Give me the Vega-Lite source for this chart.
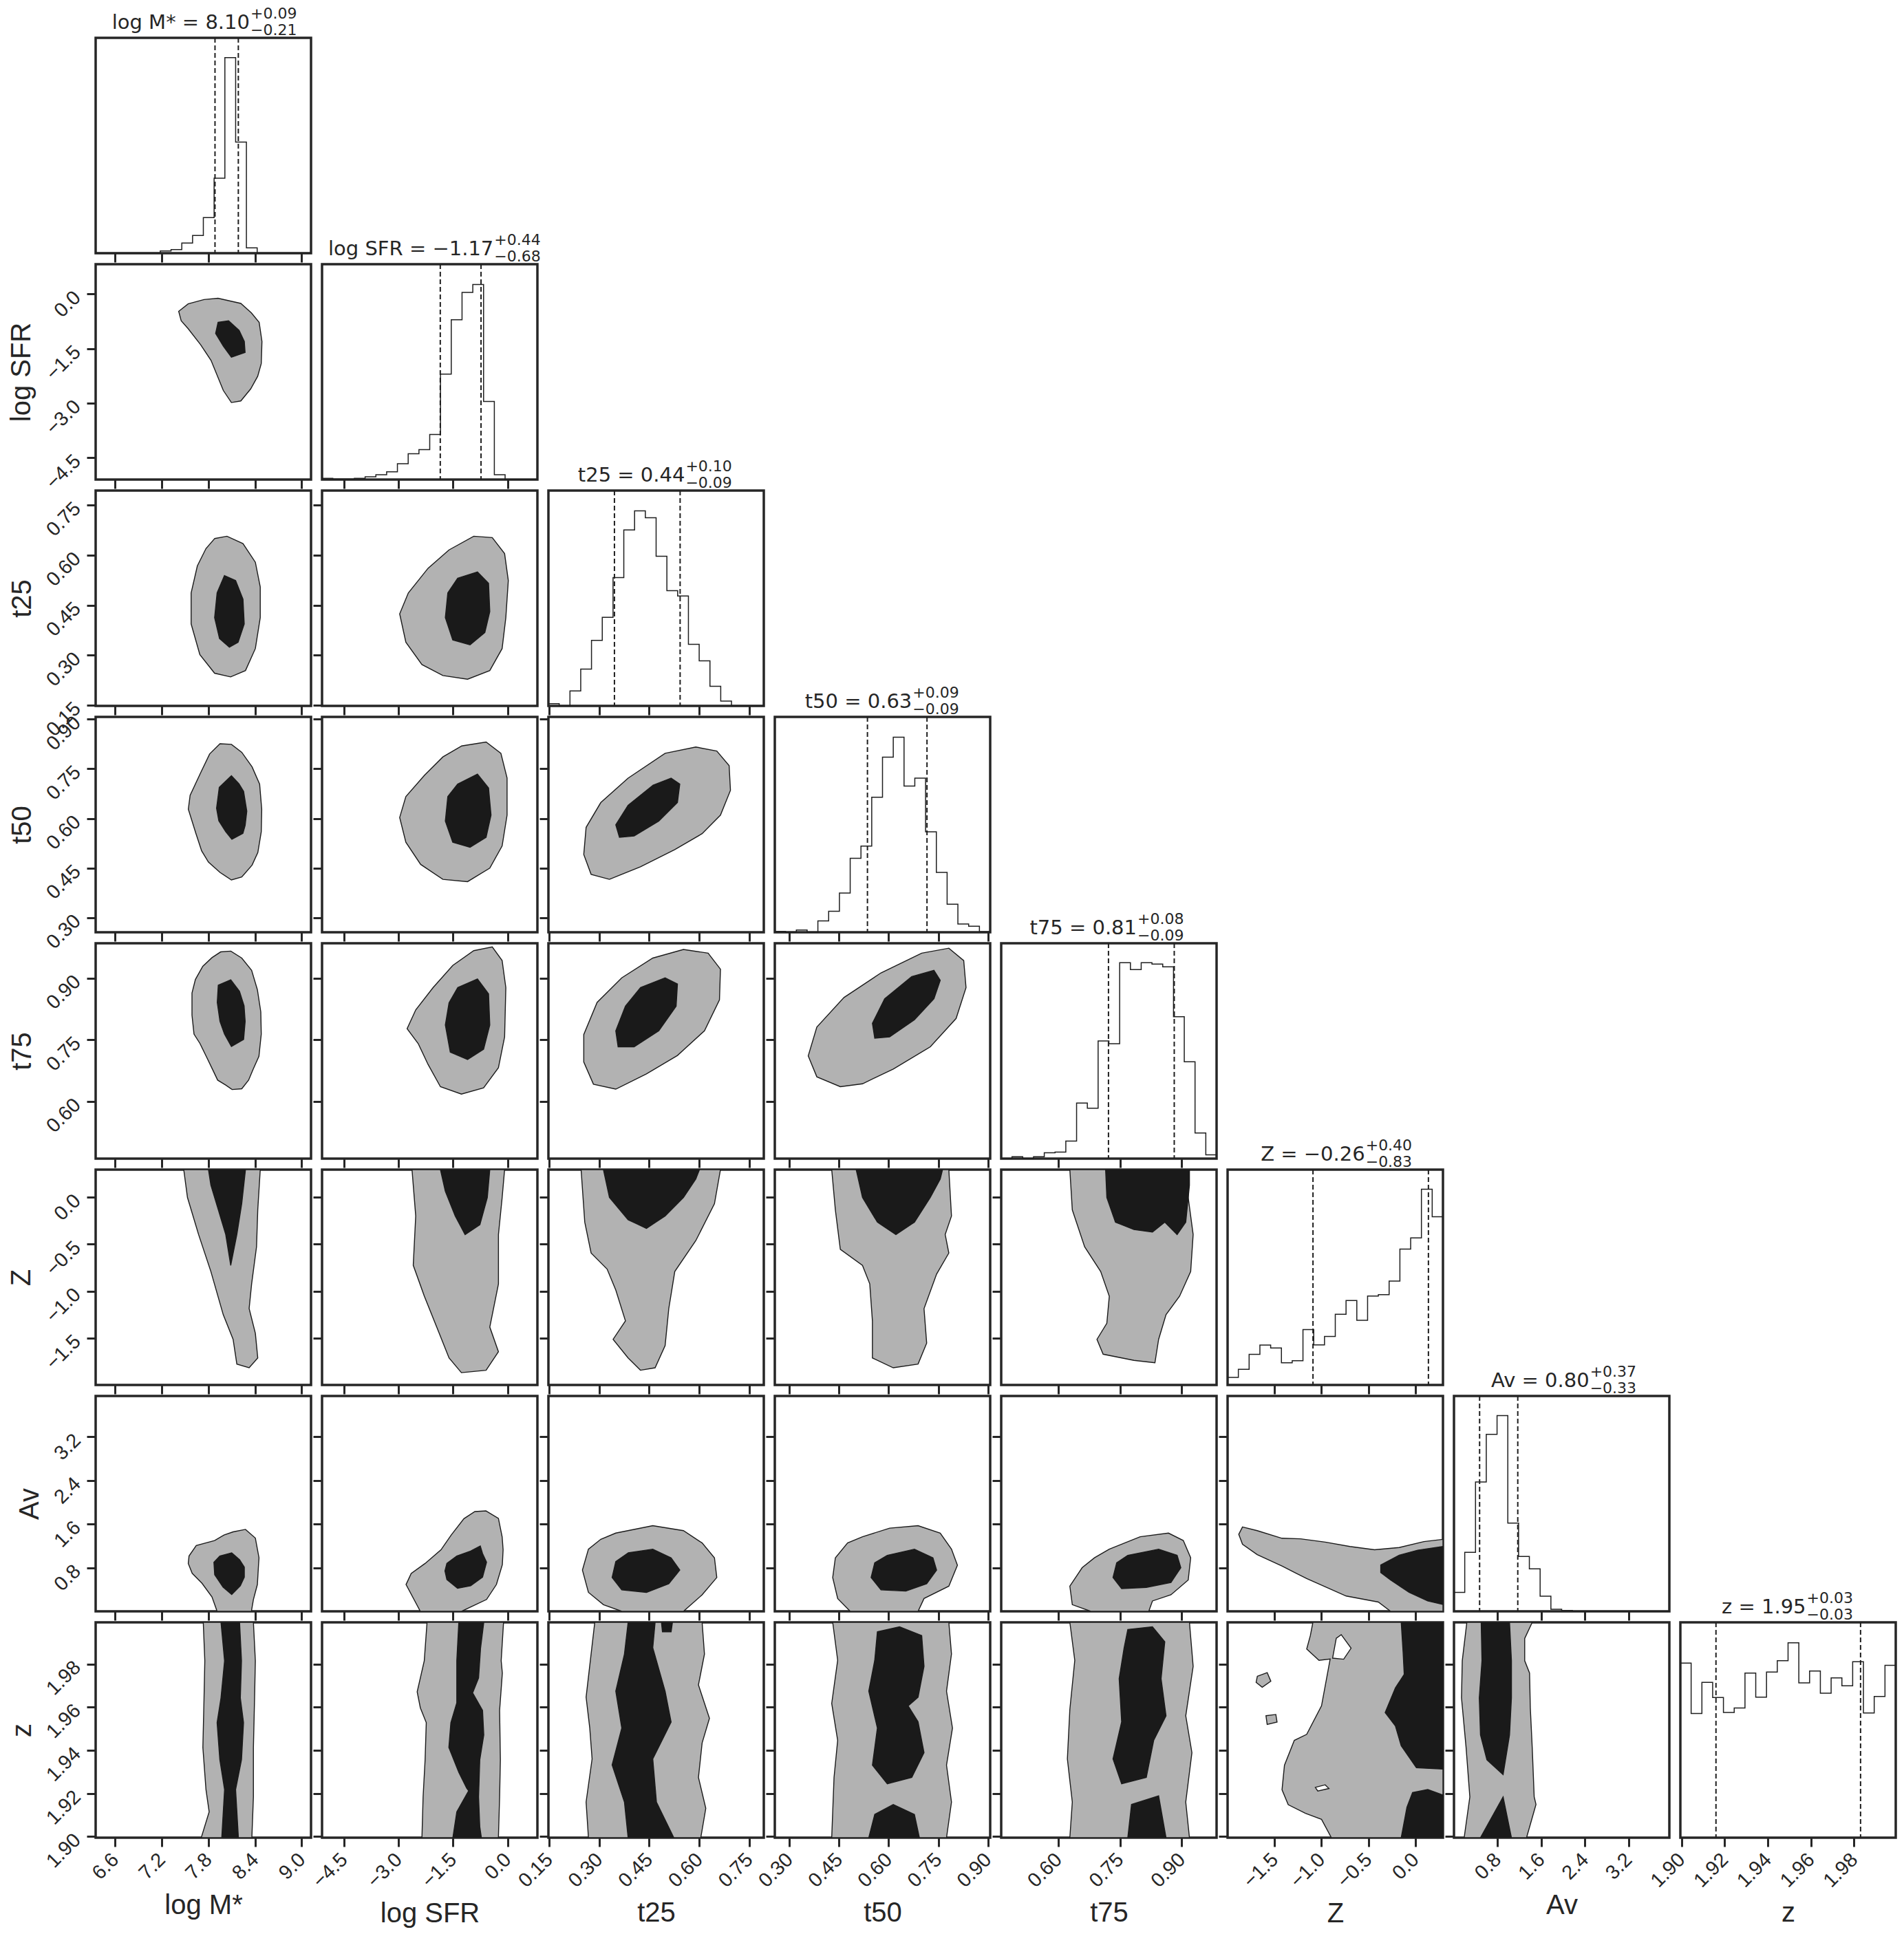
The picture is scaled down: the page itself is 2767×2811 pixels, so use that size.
{
"$schema":"https://vega.github.io/schema/vega-lite/v6.json",
"background":"white",
"padding":{"left":9,"top":7,"right":5,"bottom":5},
"columns":8,"spacing":16,"bounds":"flush",
"concat":[
{"width":313,"height":313,"layer":[
 {"data":{"values":[{"x":6.35,"n":0},{"x":6.4885,"n":0},{"x":6.627,"n":0},{"x":6.7655,"n":0},{"x":6.904,"n":0},{"x":7.0425,"n":0},{"x":7.181,"n":10},{"x":7.3195,"n":16},{"x":7.458,"n":44},{"x":7.5965,"n":77},{"x":7.735,"n":155},{"x":7.8735,"n":326},{"x":8.012,"n":850},{"x":8.1505,"n":483},{"x":8.289,"n":23},{"x":8.4275,"n":0},{"x":8.566,"n":0},{"x":8.7045,"n":0},{"x":8.843,"n":0},{"x":8.9815,"n":0},{"x":9.12,"n":0}]},
  "mark":{"type":"line","interpolate":"step-after","stroke":"#1f1f1f","strokeWidth":1.5},
  "encoding":{"x":{"field":"x","type":"quantitative","scale":{"domain":[6.35,9.12],"nice":false,"zero":false},"axis":{"values":[6.6,7.2,7.8,8.4,9.0],"labels":false,"title":null}},"y":{"field":"n","type":"quantitative","scale":{"domain":[0,936],"nice":false},"axis":null}}},
 {"data":{"values":[{"x":7.885},{"x":8.185}]},"mark":{"type":"rule","strokeDash":[7,4],"strokeWidth":2,"color":"#1f1f1f"},"encoding":{"x":{"field":"x","type":"quantitative","scale":{"domain":[6.35,9.12],"nice":false,"zero":false}}}},
 {"data":{"values":[{"t":"log M* = 8.10","u":"+0.09","d":"−0.21"}]},"encoding":{"x":{"datum":8.332,"type":"quantitative"},"y":{"datum":936,"type":"quantitative","axis":null}},"layer":[
  {"mark":{"type":"text","align":"right","baseline":"alphabetic","dy":-13,"fontSize":29,"font":"DejaVu Sans","color":"#262626"},"encoding":{"text":{"field":"t"}}},
  {"mark":{"type":"text","align":"left","baseline":"alphabetic","dx":1,"dy":-28,"fontSize":22,"font":"DejaVu Sans","color":"#262626"},"encoding":{"text":{"field":"u"}}},
  {"mark":{"type":"text","align":"left","baseline":"alphabetic","dx":1,"dy":-4,"fontSize":22,"font":"DejaVu Sans","color":"#262626"},"encoding":{"text":{"field":"d"}}}]}]},
{"width":313,"height":313,"view":{"stroke":null},"data":{"values":[]},"mark":"point"},
{"width":313,"height":313,"view":{"stroke":null},"data":{"values":[]},"mark":"point"},
{"width":313,"height":313,"view":{"stroke":null},"data":{"values":[]},"mark":"point"},
{"width":313,"height":313,"view":{"stroke":null},"data":{"values":[]},"mark":"point"},
{"width":313,"height":313,"view":{"stroke":null},"data":{"values":[]},"mark":"point"},
{"width":313,"height":313,"view":{"stroke":null},"data":{"values":[]},"mark":"point"},
{"width":313,"height":313,"view":{"stroke":null},"data":{"values":[]},"mark":"point"},

{"width":313,"height":313,
 "data":{"values":[{"s":"g1","i":0,"x":7.418,"y":-0.475},{"s":"g1","i":1,"x":7.54,"y":-0.27},{"s":"g1","i":2,"x":7.744,"y":-0.152},{"s":"g1","i":3,"x":7.924,"y":-0.116},{"s":"g1","i":4,"x":8.217,"y":-0.257},{"s":"g1","i":5,"x":8.353,"y":-0.517},{"s":"g1","i":6,"x":8.453,"y":-0.779},{"s":"g1","i":7,"x":8.489,"y":-1.302},{"s":"g1","i":8,"x":8.48,"y":-1.911},{"s":"g1","i":9,"x":8.434,"y":-2.261},{"s":"g1","i":10,"x":8.344,"y":-2.608},{"s":"g1","i":11,"x":8.217,"y":-2.94},{"s":"g1","i":12,"x":8.096,"y":-2.983},{"s":"g1","i":13,"x":7.992,"y":-2.651},{"s":"g1","i":14,"x":7.834,"y":-1.824},{"s":"g1","i":15,"x":7.699,"y":-1.39},{"s":"g1","i":16,"x":7.54,"y":-0.953},{"s":"g1","i":17,"x":7.45,"y":-0.735},
 {"s":"k1","i":0,"x":7.924,"y":-0.779},{"s":"k1","i":1,"x":8.06,"y":-0.735},{"s":"k1","i":2,"x":8.195,"y":-0.997},{"s":"k1","i":3,"x":8.262,"y":-1.302},{"s":"k1","i":4,"x":8.272,"y":-1.606},{"s":"k1","i":5,"x":8.096,"y":-1.737},{"s":"k1","i":6,"x":7.992,"y":-1.433},{"s":"k1","i":7,"x":7.893,"y":-1.084}]},
 "encoding":{"x":{"field":"x","type":"quantitative","scale":{"domain":[6.35,9.12],"nice":false,"zero":false},"axis":{"values":[6.6,7.2,7.8,8.4,9.0],"labels":false,"title":null}},
  "y":{"field":"y","type":"quantitative","scale":{"domain":[-5.1,0.82],"nice":false,"zero":false},"axis":{"values":[-4.5,-3,-1.5,0],"format":".1f","title":"log SFR"}},
  "order":{"field":"i","type":"quantitative"},"detail":{"field":"s","type":"nominal"}},
 "layer":[{"transform":[{"filter":"substring(datum.s,0,1)=='g'"}],"mark":{"type":"line","interpolate":"linear-closed","fill":"#b2b2b2","stroke":"#1a1a1a","strokeWidth":1.4,"clip":true}},
  {"transform":[{"filter":"substring(datum.s,0,1)=='k'"}],"mark":{"type":"line","interpolate":"linear-closed","fill":"#1a1a1a","stroke":"#1a1a1a","strokeWidth":1.4,"clip":true}}]},
{"width":313,"height":313,"layer":[
 {"data":{"values":[{"x":-5.1,"n":5},{"x":-4.804,"n":2},{"x":-4.508,"n":2},{"x":-4.212,"n":5},{"x":-3.916,"n":12},{"x":-3.62,"n":21},{"x":-3.324,"n":34},{"x":-3.028,"n":69},{"x":-2.732,"n":112},{"x":-2.436,"n":130},{"x":-2.14,"n":196},{"x":-1.844,"n":459},{"x":-1.548,"n":695},{"x":-1.252,"n":814},{"x":-0.956,"n":849},{"x":-0.66,"n":340},{"x":-0.364,"n":21},{"x":-0.068,"n":0},{"x":0.228,"n":0},{"x":0.524,"n":0},{"x":0.82,"n":0}]},
  "mark":{"type":"line","interpolate":"step-after","stroke":"#1f1f1f","strokeWidth":1.5},
  "encoding":{"x":{"field":"x","type":"quantitative","scale":{"domain":[-5.1,0.82],"nice":false,"zero":false},"axis":{"values":[-4.5,-3,-1.5,0],"labels":false,"title":null}},"y":{"field":"n","type":"quantitative","scale":{"domain":[0,937],"nice":false},"axis":null}}},
 {"data":{"values":[{"x":-1.85},{"x":-0.73}]},"mark":{"type":"rule","strokeDash":[7,4],"strokeWidth":2,"color":"#1f1f1f"},"encoding":{"x":{"field":"x","type":"quantitative","scale":{"domain":[-5.1,0.82],"nice":false,"zero":false}}}},
 {"data":{"values":[{"t":"log SFR = −1.17","u":"+0.44","d":"−0.68"}]},"encoding":{"x":{"datum":-0.385,"type":"quantitative"},"y":{"datum":937,"type":"quantitative","axis":null}},"layer":[
  {"mark":{"type":"text","align":"right","baseline":"alphabetic","dy":-13,"fontSize":29,"font":"DejaVu Sans","color":"#262626"},"encoding":{"text":{"field":"t"}}},
  {"mark":{"type":"text","align":"left","baseline":"alphabetic","dx":1,"dy":-28,"fontSize":22,"font":"DejaVu Sans","color":"#262626"},"encoding":{"text":{"field":"u"}}},
  {"mark":{"type":"text","align":"left","baseline":"alphabetic","dx":1,"dy":-4,"fontSize":22,"font":"DejaVu Sans","color":"#262626"},"encoding":{"text":{"field":"d"}}}]}]},
{"width":313,"height":313,"view":{"stroke":null},"data":{"values":[]},"mark":"point"},
{"width":313,"height":313,"view":{"stroke":null},"data":{"values":[]},"mark":"point"},
{"width":313,"height":313,"view":{"stroke":null},"data":{"values":[]},"mark":"point"},
{"width":313,"height":313,"view":{"stroke":null},"data":{"values":[]},"mark":"point"},
{"width":313,"height":313,"view":{"stroke":null},"data":{"values":[]},"mark":"point"},
{"width":313,"height":313,"view":{"stroke":null},"data":{"values":[]},"mark":"point"},

{"width":313,"height":313,
 "data":{"values":[{"s":"g1","i":0,"x":7.88,"y":0.65},{"s":"g1","i":1,"x":8.039,"y":0.657},{"s":"g1","i":2,"x":8.245,"y":0.635},{"s":"g1","i":3,"x":8.404,"y":0.579},{"s":"g1","i":4,"x":8.467,"y":0.505},{"s":"g1","i":5,"x":8.467,"y":0.413},{"s":"g1","i":6,"x":8.404,"y":0.32},{"s":"g1","i":7,"x":8.277,"y":0.254},{"s":"g1","i":8,"x":8.086,"y":0.235},{"s":"g1","i":9,"x":7.88,"y":0.246},{"s":"g1","i":10,"x":7.69,"y":0.302},{"s":"g1","i":11,"x":7.578,"y":0.394},{"s":"g1","i":12,"x":7.578,"y":0.487},{"s":"g1","i":13,"x":7.658,"y":0.568},{"s":"g1","i":14,"x":7.769,"y":0.62},
 {"s":"k1","i":0,"x":8.007,"y":0.539},{"s":"k1","i":1,"x":8.15,"y":0.524},{"s":"k1","i":2,"x":8.245,"y":0.468},{"s":"k1","i":3,"x":8.261,"y":0.394},{"s":"k1","i":4,"x":8.182,"y":0.339},{"s":"k1","i":5,"x":8.07,"y":0.324},{"s":"k1","i":6,"x":7.943,"y":0.35},{"s":"k1","i":7,"x":7.88,"y":0.413},{"s":"k1","i":8,"x":7.912,"y":0.487}]},
 "encoding":{"x":{"field":"x","type":"quantitative","scale":{"domain":[6.35,9.12],"nice":false,"zero":false},"axis":{"values":[6.6,7.2,7.8,8.4,9.0],"labels":false,"title":null}},
  "y":{"field":"y","type":"quantitative","scale":{"domain":[0.148,0.794],"nice":false,"zero":false},"axis":{"values":[0.15,0.3,0.45,0.6,0.75],"format":".2f","title":"t25"}},
  "order":{"field":"i","type":"quantitative"},"detail":{"field":"s","type":"nominal"}},
 "layer":[{"transform":[{"filter":"substring(datum.s,0,1)=='g'"}],"mark":{"type":"line","interpolate":"linear-closed","fill":"#b2b2b2","stroke":"#1a1a1a","strokeWidth":1.4,"clip":true}},
  {"transform":[{"filter":"substring(datum.s,0,1)=='k'"}],"mark":{"type":"line","interpolate":"linear-closed","fill":"#1a1a1a","stroke":"#1a1a1a","strokeWidth":1.4,"clip":true}}]},
{"width":313,"height":313,
 "data":{"values":[{"s":"g1","i":0,"x":-1.609,"y":0.616},{"s":"g1","i":1,"x":-0.93,"y":0.657},{"s":"g1","i":2,"x":-0.421,"y":0.653},{"s":"g1","i":3,"x":-0.082,"y":0.605},{"s":"g1","i":4,"x":0.02,"y":0.524},{"s":"g1","i":5,"x":-0.048,"y":0.413},{"s":"g1","i":6,"x":-0.15,"y":0.32},{"s":"g1","i":7,"x":-0.489,"y":0.254},{"s":"g1","i":8,"x":-1.1,"y":0.228},{"s":"g1","i":9,"x":-1.778,"y":0.239},{"s":"g1","i":10,"x":-2.355,"y":0.272},{"s":"g1","i":11,"x":-2.796,"y":0.339},{"s":"g1","i":12,"x":-2.966,"y":0.424},{"s":"g1","i":13,"x":-2.728,"y":0.487},{"s":"g1","i":14,"x":-2.185,"y":0.561},
 {"s":"k1","i":0,"x":-1.371,"y":0.531},{"s":"k1","i":1,"x":-0.828,"y":0.55},{"s":"k1","i":2,"x":-0.523,"y":0.516},{"s":"k1","i":3,"x":-0.489,"y":0.431},{"s":"k1","i":4,"x":-0.625,"y":0.368},{"s":"k1","i":5,"x":-1.032,"y":0.331},{"s":"k1","i":6,"x":-1.507,"y":0.346},{"s":"k1","i":7,"x":-1.711,"y":0.413},{"s":"k1","i":8,"x":-1.643,"y":0.487}]},
 "encoding":{"x":{"field":"x","type":"quantitative","scale":{"domain":[-5.1,0.82],"nice":false,"zero":false},"axis":{"values":[-4.5,-3,-1.5,0],"labels":false,"title":null}},
  "y":{"field":"y","type":"quantitative","scale":{"domain":[0.148,0.794],"nice":false,"zero":false},"axis":{"values":[0.15,0.3,0.45,0.6,0.75],"labels":false,"title":null}},
  "order":{"field":"i","type":"quantitative"},"detail":{"field":"s","type":"nominal"}},
 "layer":[{"transform":[{"filter":"substring(datum.s,0,1)=='g'"}],"mark":{"type":"line","interpolate":"linear-closed","fill":"#b2b2b2","stroke":"#1a1a1a","strokeWidth":1.4,"clip":true}},
  {"transform":[{"filter":"substring(datum.s,0,1)=='k'"}],"mark":{"type":"line","interpolate":"linear-closed","fill":"#1a1a1a","stroke":"#1a1a1a","strokeWidth":1.4,"clip":true}}]},
{"width":313,"height":313,"layer":[
 {"data":{"values":[{"x":0.148,"n":3.3},{"x":0.1803,"n":0},{"x":0.2126,"n":21.7},{"x":0.2449,"n":53.3},{"x":0.2772,"n":95},{"x":0.3095,"n":128.3},{"x":0.3418,"n":186},{"x":0.3741,"n":255},{"x":0.4064,"n":282.7},{"x":0.4387,"n":272.7},{"x":0.471,"n":216.7},{"x":0.5033,"n":167},{"x":0.5356,"n":159.3},{"x":0.5679,"n":89.3},{"x":0.6002,"n":65.3},{"x":0.6325,"n":28.3},{"x":0.6648,"n":7},{"x":0.6971,"n":0},{"x":0.7294,"n":0},{"x":0.7617,"n":0},{"x":0.794,"n":0}]},
  "mark":{"type":"line","interpolate":"step-after","stroke":"#1f1f1f","strokeWidth":1.5},
  "encoding":{"x":{"field":"x","type":"quantitative","scale":{"domain":[0.148,0.794],"nice":false,"zero":false},"axis":{"values":[0.15,0.3,0.45,0.6,0.75],"labels":false,"title":null}},"y":{"field":"n","type":"quantitative","scale":{"domain":[0,312],"nice":false},"axis":null}}},
 {"data":{"values":[{"x":0.346},{"x":0.543}]},"mark":{"type":"rule","strokeDash":[7,4],"strokeWidth":2,"color":"#1f1f1f"},"encoding":{"x":{"field":"x","type":"quantitative","scale":{"domain":[0.148,0.794],"nice":false,"zero":false}}}},
 {"data":{"values":[{"t":"t25 = 0.44","u":"+0.10","d":"−0.09"}]},"encoding":{"x":{"datum":0.5575,"type":"quantitative"},"y":{"datum":312,"type":"quantitative","axis":null}},"layer":[
  {"mark":{"type":"text","align":"right","baseline":"alphabetic","dy":-13,"fontSize":29,"font":"DejaVu Sans","color":"#262626"},"encoding":{"text":{"field":"t"}}},
  {"mark":{"type":"text","align":"left","baseline":"alphabetic","dx":1,"dy":-28,"fontSize":22,"font":"DejaVu Sans","color":"#262626"},"encoding":{"text":{"field":"u"}}},
  {"mark":{"type":"text","align":"left","baseline":"alphabetic","dx":1,"dy":-4,"fontSize":22,"font":"DejaVu Sans","color":"#262626"},"encoding":{"text":{"field":"d"}}}]}]},
{"width":313,"height":313,"view":{"stroke":null},"data":{"values":[]},"mark":"point"},
{"width":313,"height":313,"view":{"stroke":null},"data":{"values":[]},"mark":"point"},
{"width":313,"height":313,"view":{"stroke":null},"data":{"values":[]},"mark":"point"},
{"width":313,"height":313,"view":{"stroke":null},"data":{"values":[]},"mark":"point"},
{"width":313,"height":313,"view":{"stroke":null},"data":{"values":[]},"mark":"point"},

{"width":313,"height":313,
 "data":{"values":[{"s":"g1","i":0,"x":7.949,"y":0.826},{"s":"g1","i":1,"x":8.096,"y":0.824},{"s":"g1","i":2,"x":8.229,"y":0.8},{"s":"g1","i":3,"x":8.362,"y":0.756},{"s":"g1","i":4,"x":8.459,"y":0.704},{"s":"g1","i":5,"x":8.486,"y":0.627},{"s":"g1","i":6,"x":8.48,"y":0.56},{"s":"g1","i":7,"x":8.436,"y":0.497},{"s":"g1","i":8,"x":8.362,"y":0.459},{"s":"g1","i":9,"x":8.229,"y":0.423},{"s":"g1","i":10,"x":8.096,"y":0.414},{"s":"g1","i":11,"x":7.949,"y":0.437},{"s":"g1","i":12,"x":7.801,"y":0.468},{"s":"g1","i":13,"x":7.713,"y":0.502},{"s":"g1","i":14,"x":7.639,"y":0.555},{"s":"g1","i":15,"x":7.542,"y":0.628},{"s":"g1","i":16,"x":7.565,"y":0.67},{"s":"g1","i":17,"x":7.698,"y":0.737},{"s":"g1","i":18,"x":7.816,"y":0.795},
 {"s":"k1","i":0,"x":8.096,"y":0.729},{"s":"k1","i":1,"x":8.193,"y":0.705},{"s":"k1","i":2,"x":8.253,"y":0.682},{"s":"k1","i":3,"x":8.294,"y":0.622},{"s":"k1","i":4,"x":8.273,"y":0.579},{"s":"k1","i":5,"x":8.244,"y":0.555},{"s":"k1","i":6,"x":8.102,"y":0.537},{"s":"k1","i":7,"x":8.023,"y":0.56},{"s":"k1","i":8,"x":7.934,"y":0.593},{"s":"k1","i":9,"x":7.905,"y":0.631},{"s":"k1","i":10,"x":7.94,"y":0.694}]},
 "encoding":{"x":{"field":"x","type":"quantitative","scale":{"domain":[6.35,9.12],"nice":false,"zero":false},"axis":{"values":[6.6,7.2,7.8,8.4,9.0],"labels":false,"title":null}},
  "y":{"field":"y","type":"quantitative","scale":{"domain":[0.256,0.907],"nice":false,"zero":false},"axis":{"values":[0.3,0.45,0.6,0.75,0.9],"format":".2f","title":"t50"}},
  "order":{"field":"i","type":"quantitative"},"detail":{"field":"s","type":"nominal"}},
 "layer":[{"transform":[{"filter":"substring(datum.s,0,1)=='g'"}],"mark":{"type":"line","interpolate":"linear-closed","fill":"#b2b2b2","stroke":"#1a1a1a","strokeWidth":1.4,"clip":true}},
  {"transform":[{"filter":"substring(datum.s,0,1)=='k'"}],"mark":{"type":"line","interpolate":"linear-closed","fill":"#1a1a1a","stroke":"#1a1a1a","strokeWidth":1.4,"clip":true}}]},
{"width":313,"height":313,
 "data":{"values":[{"s":"g1","i":0,"x":-1.269,"y":0.819},{"s":"g1","i":1,"x":-0.59,"y":0.831},{"s":"g1","i":2,"x":-0.184,"y":0.797},{"s":"g1","i":3,"x":-0.014,"y":0.722},{"s":"g1","i":4,"x":-0.014,"y":0.61},{"s":"g1","i":5,"x":-0.15,"y":0.517},{"s":"g1","i":6,"x":-0.489,"y":0.45},{"s":"g1","i":7,"x":-1.1,"y":0.409},{"s":"g1","i":8,"x":-1.778,"y":0.416},{"s":"g1","i":9,"x":-2.389,"y":0.461},{"s":"g1","i":10,"x":-2.796,"y":0.528},{"s":"g1","i":11,"x":-2.966,"y":0.603},{"s":"g1","i":12,"x":-2.796,"y":0.666},{"s":"g1","i":13,"x":-2.287,"y":0.73},{"s":"g1","i":14,"x":-1.778,"y":0.786},
 {"s":"k1","i":0,"x":-1.371,"y":0.704},{"s":"k1","i":1,"x":-0.828,"y":0.734},{"s":"k1","i":2,"x":-0.523,"y":0.692},{"s":"k1","i":3,"x":-0.455,"y":0.61},{"s":"k1","i":4,"x":-0.591,"y":0.543},{"s":"k1","i":5,"x":-1.032,"y":0.513},{"s":"k1","i":6,"x":-1.507,"y":0.528},{"s":"k1","i":7,"x":-1.711,"y":0.592},{"s":"k1","i":8,"x":-1.643,"y":0.666}]},
 "encoding":{"x":{"field":"x","type":"quantitative","scale":{"domain":[-5.1,0.82],"nice":false,"zero":false},"axis":{"values":[-4.5,-3,-1.5,0],"labels":false,"title":null}},
  "y":{"field":"y","type":"quantitative","scale":{"domain":[0.256,0.907],"nice":false,"zero":false},"axis":{"values":[0.3,0.45,0.6,0.75,0.9],"labels":false,"title":null}},
  "order":{"field":"i","type":"quantitative"},"detail":{"field":"s","type":"nominal"}},
 "layer":[{"transform":[{"filter":"substring(datum.s,0,1)=='g'"}],"mark":{"type":"line","interpolate":"linear-closed","fill":"#b2b2b2","stroke":"#1a1a1a","strokeWidth":1.4,"clip":true}},
  {"transform":[{"filter":"substring(datum.s,0,1)=='k'"}],"mark":{"type":"line","interpolate":"linear-closed","fill":"#1a1a1a","stroke":"#1a1a1a","strokeWidth":1.4,"clip":true}}]},
{"width":313,"height":313,
 "data":{"values":[{"s":"g1","i":0,"x":0.498,"y":0.797},{"s":"g1","i":1,"x":0.59,"y":0.816},{"s":"g1","i":2,"x":0.653,"y":0.804},{"s":"g1","i":3,"x":0.69,"y":0.76},{"s":"g1","i":4,"x":0.694,"y":0.685},{"s":"g1","i":5,"x":0.664,"y":0.61},{"s":"g1","i":6,"x":0.609,"y":0.554},{"s":"g1","i":7,"x":0.527,"y":0.506},{"s":"g1","i":8,"x":0.424,"y":0.454},{"s":"g1","i":9,"x":0.331,"y":0.416},{"s":"g1","i":10,"x":0.276,"y":0.431},{"s":"g1","i":11,"x":0.254,"y":0.491},{"s":"g1","i":12,"x":0.261,"y":0.573},{"s":"g1","i":13,"x":0.305,"y":0.648},{"s":"g1","i":14,"x":0.387,"y":0.722},
 {"s":"k1","i":0,"x":0.461,"y":0.7},{"s":"k1","i":1,"x":0.516,"y":0.722},{"s":"k1","i":2,"x":0.542,"y":0.704},{"s":"k1","i":3,"x":0.535,"y":0.648},{"s":"k1","i":4,"x":0.479,"y":0.592},{"s":"k1","i":5,"x":0.405,"y":0.547},{"s":"k1","i":6,"x":0.361,"y":0.543},{"s":"k1","i":7,"x":0.35,"y":0.581},{"s":"k1","i":8,"x":0.387,"y":0.64}]},
 "encoding":{"x":{"field":"x","type":"quantitative","scale":{"domain":[0.148,0.794],"nice":false,"zero":false},"axis":{"values":[0.15,0.3,0.45,0.6,0.75],"labels":false,"title":null}},
  "y":{"field":"y","type":"quantitative","scale":{"domain":[0.256,0.907],"nice":false,"zero":false},"axis":{"values":[0.3,0.45,0.6,0.75,0.9],"labels":false,"title":null}},
  "order":{"field":"i","type":"quantitative"},"detail":{"field":"s","type":"nominal"}},
 "layer":[{"transform":[{"filter":"substring(datum.s,0,1)=='g'"}],"mark":{"type":"line","interpolate":"linear-closed","fill":"#b2b2b2","stroke":"#1a1a1a","strokeWidth":1.4,"clip":true}},
  {"transform":[{"filter":"substring(datum.s,0,1)=='k'"}],"mark":{"type":"line","interpolate":"linear-closed","fill":"#1a1a1a","stroke":"#1a1a1a","strokeWidth":1.4,"clip":true}}]},
{"width":313,"height":313,"layer":[
 {"data":{"values":[{"x":0.256,"n":4},{"x":0.28855,"n":0},{"x":0.3211,"n":10},{"x":0.35365,"n":0},{"x":0.3862,"n":49},{"x":0.41875,"n":91},{"x":0.4513,"n":170},{"x":0.48385,"n":320},{"x":0.5164,"n":373},{"x":0.54895,"n":584},{"x":0.5815,"n":758},{"x":0.61405,"n":844},{"x":0.6466,"n":633},{"x":0.67915,"n":667},{"x":0.7117,"n":435},{"x":0.74425,"n":259},{"x":0.7768,"n":121},{"x":0.80935,"n":36},{"x":0.8419,"n":26},{"x":0.87445,"n":2},{"x":0.907,"n":2}]},
  "mark":{"type":"line","interpolate":"step-after","stroke":"#1f1f1f","strokeWidth":1.5},
  "encoding":{"x":{"field":"x","type":"quantitative","scale":{"domain":[0.256,0.907],"nice":false,"zero":false},"axis":{"values":[0.3,0.45,0.6,0.75,0.9],"labels":false,"title":null}},"y":{"field":"n","type":"quantitative","scale":{"domain":[0,932],"nice":false},"axis":null}}},
 {"data":{"values":[{"x":0.536},{"x":0.716}]},"mark":{"type":"rule","strokeDash":[7,4],"strokeWidth":2,"color":"#1f1f1f"},"encoding":{"x":{"field":"x","type":"quantitative","scale":{"domain":[0.256,0.907],"nice":false,"zero":false}}}},
 {"data":{"values":[{"t":"t50 = 0.63","u":"+0.09","d":"−0.09"}]},"encoding":{"x":{"datum":0.6705,"type":"quantitative"},"y":{"datum":932,"type":"quantitative","axis":null}},"layer":[
  {"mark":{"type":"text","align":"right","baseline":"alphabetic","dy":-13,"fontSize":29,"font":"DejaVu Sans","color":"#262626"},"encoding":{"text":{"field":"t"}}},
  {"mark":{"type":"text","align":"left","baseline":"alphabetic","dx":1,"dy":-28,"fontSize":22,"font":"DejaVu Sans","color":"#262626"},"encoding":{"text":{"field":"u"}}},
  {"mark":{"type":"text","align":"left","baseline":"alphabetic","dx":1,"dy":-4,"fontSize":22,"font":"DejaVu Sans","color":"#262626"},"encoding":{"text":{"field":"d"}}}]}]},
{"width":313,"height":313,"view":{"stroke":null},"data":{"values":[]},"mark":"point"},
{"width":313,"height":313,"view":{"stroke":null},"data":{"values":[]},"mark":"point"},
{"width":313,"height":313,"view":{"stroke":null},"data":{"values":[]},"mark":"point"},
{"width":313,"height":313,"view":{"stroke":null},"data":{"values":[]},"mark":"point"},

{"width":313,"height":313,
 "data":{"values":[{"s":"g1","i":0,"x":7.958,"y":0.964},{"s":"g1","i":1,"x":8.088,"y":0.966},{"s":"g1","i":2,"x":8.229,"y":0.949},{"s":"g1","i":3,"x":8.356,"y":0.919},{"s":"g1","i":4,"x":8.43,"y":0.872},{"s":"g1","i":5,"x":8.474,"y":0.818},{"s":"g1","i":6,"x":8.48,"y":0.764},{"s":"g1","i":7,"x":8.45,"y":0.71},{"s":"g1","i":8,"x":8.377,"y":0.679},{"s":"g1","i":9,"x":8.317,"y":0.652},{"s":"g1","i":10,"x":8.229,"y":0.631},{"s":"g1","i":11,"x":8.105,"y":0.629},{"s":"g1","i":12,"x":8.023,"y":0.64},{"s":"g1","i":13,"x":7.919,"y":0.652},{"s":"g1","i":14,"x":7.861,"y":0.675},{"s":"g1","i":15,"x":7.772,"y":0.71},{"s":"g1","i":16,"x":7.692,"y":0.741},{"s":"g1","i":17,"x":7.615,"y":0.764},{"s":"g1","i":18,"x":7.589,"y":0.81},{"s":"g1","i":19,"x":7.589,"y":0.864},{"s":"g1","i":20,"x":7.633,"y":0.897},{"s":"g1","i":21,"x":7.728,"y":0.929},{"s":"g1","i":22,"x":7.846,"y":0.95},
 {"s":"k1","i":0,"x":7.927,"y":0.883},{"s":"k1","i":1,"x":8.088,"y":0.896},{"s":"k1","i":2,"x":8.2,"y":0.868},{"s":"k1","i":3,"x":8.259,"y":0.833},{"s":"k1","i":4,"x":8.273,"y":0.795},{"s":"k1","i":5,"x":8.253,"y":0.751},{"s":"k1","i":6,"x":8.096,"y":0.734},{"s":"k1","i":7,"x":8.007,"y":0.764},{"s":"k1","i":8,"x":7.949,"y":0.795},{"s":"k1","i":9,"x":7.914,"y":0.841}]},
 "encoding":{"x":{"field":"x","type":"quantitative","scale":{"domain":[6.35,9.12],"nice":false,"zero":false},"axis":{"values":[6.6,7.2,7.8,8.4,9.0],"labels":false,"title":null}},
  "y":{"field":"y","type":"quantitative","scale":{"domain":[0.461,0.985],"nice":false,"zero":false},"axis":{"values":[0.6,0.75,0.9],"format":".2f","title":"t75"}},
  "order":{"field":"i","type":"quantitative"},"detail":{"field":"s","type":"nominal"}},
 "layer":[{"transform":[{"filter":"substring(datum.s,0,1)=='g'"}],"mark":{"type":"line","interpolate":"linear-closed","fill":"#b2b2b2","stroke":"#1a1a1a","strokeWidth":1.4,"clip":true}},
  {"transform":[{"filter":"substring(datum.s,0,1)=='k'"}],"mark":{"type":"line","interpolate":"linear-closed","fill":"#1a1a1a","stroke":"#1a1a1a","strokeWidth":1.4,"clip":true}}]},
{"width":313,"height":313,
 "data":{"values":[{"s":"g1","i":0,"x":-0.93,"y":0.967},{"s":"g1","i":1,"x":-0.421,"y":0.976},{"s":"g1","i":2,"x":-0.15,"y":0.943},{"s":"g1","i":3,"x":-0.048,"y":0.877},{"s":"g1","i":4,"x":-0.082,"y":0.757},{"s":"g1","i":5,"x":-0.252,"y":0.682},{"s":"g1","i":6,"x":-0.659,"y":0.633},{"s":"g1","i":7,"x":-1.269,"y":0.618},{"s":"g1","i":8,"x":-1.846,"y":0.636},{"s":"g1","i":9,"x":-2.185,"y":0.69},{"s":"g1","i":10,"x":-2.457,"y":0.741},{"s":"g1","i":11,"x":-2.762,"y":0.777},{"s":"g1","i":12,"x":-2.524,"y":0.823},{"s":"g1","i":13,"x":-2.049,"y":0.877},{"s":"g1","i":14,"x":-1.507,"y":0.931},
 {"s":"k1","i":0,"x":-1.371,"y":0.877},{"s":"k1","i":1,"x":-0.828,"y":0.898},{"s":"k1","i":2,"x":-0.523,"y":0.862},{"s":"k1","i":3,"x":-0.489,"y":0.786},{"s":"k1","i":4,"x":-0.659,"y":0.727},{"s":"k1","i":5,"x":-1.1,"y":0.702},{"s":"k1","i":6,"x":-1.575,"y":0.72},{"s":"k1","i":7,"x":-1.711,"y":0.786},{"s":"k1","i":8,"x":-1.609,"y":0.84}]},
 "encoding":{"x":{"field":"x","type":"quantitative","scale":{"domain":[-5.1,0.82],"nice":false,"zero":false},"axis":{"values":[-4.5,-3,-1.5,0],"labels":false,"title":null}},
  "y":{"field":"y","type":"quantitative","scale":{"domain":[0.461,0.985],"nice":false,"zero":false},"axis":{"values":[0.6,0.75,0.9],"labels":false,"title":null}},
  "order":{"field":"i","type":"quantitative"},"detail":{"field":"s","type":"nominal"}},
 "layer":[{"transform":[{"filter":"substring(datum.s,0,1)=='g'"}],"mark":{"type":"line","interpolate":"linear-closed","fill":"#b2b2b2","stroke":"#1a1a1a","strokeWidth":1.4,"clip":true}},
  {"transform":[{"filter":"substring(datum.s,0,1)=='k'"}],"mark":{"type":"line","interpolate":"linear-closed","fill":"#1a1a1a","stroke":"#1a1a1a","strokeWidth":1.4,"clip":true}}]},
{"width":313,"height":313,
 "data":{"values":[{"s":"g1","i":0,"x":0.461,"y":0.949},{"s":"g1","i":1,"x":0.553,"y":0.97},{"s":"g1","i":2,"x":0.627,"y":0.961},{"s":"g1","i":3,"x":0.664,"y":0.922},{"s":"g1","i":4,"x":0.661,"y":0.847},{"s":"g1","i":5,"x":0.616,"y":0.772},{"s":"g1","i":6,"x":0.535,"y":0.712},{"s":"g1","i":7,"x":0.442,"y":0.667},{"s":"g1","i":8,"x":0.35,"y":0.63},{"s":"g1","i":9,"x":0.283,"y":0.642},{"s":"g1","i":10,"x":0.254,"y":0.696},{"s":"g1","i":11,"x":0.254,"y":0.763},{"s":"g1","i":12,"x":0.294,"y":0.841},{"s":"g1","i":13,"x":0.368,"y":0.901},
 {"s":"k1","i":0,"x":0.424,"y":0.877},{"s":"k1","i":1,"x":0.498,"y":0.901},{"s":"k1","i":2,"x":0.535,"y":0.886},{"s":"k1","i":3,"x":0.531,"y":0.832},{"s":"k1","i":4,"x":0.479,"y":0.772},{"s":"k1","i":5,"x":0.405,"y":0.733},{"s":"k1","i":6,"x":0.357,"y":0.733},{"s":"k1","i":7,"x":0.35,"y":0.772},{"s":"k1","i":8,"x":0.379,"y":0.832}]},
 "encoding":{"x":{"field":"x","type":"quantitative","scale":{"domain":[0.148,0.794],"nice":false,"zero":false},"axis":{"values":[0.15,0.3,0.45,0.6,0.75],"labels":false,"title":null}},
  "y":{"field":"y","type":"quantitative","scale":{"domain":[0.461,0.985],"nice":false,"zero":false},"axis":{"values":[0.6,0.75,0.9],"labels":false,"title":null}},
  "order":{"field":"i","type":"quantitative"},"detail":{"field":"s","type":"nominal"}},
 "layer":[{"transform":[{"filter":"substring(datum.s,0,1)=='g'"}],"mark":{"type":"line","interpolate":"linear-closed","fill":"#b2b2b2","stroke":"#1a1a1a","strokeWidth":1.4,"clip":true}},
  {"transform":[{"filter":"substring(datum.s,0,1)=='k'"}],"mark":{"type":"line","interpolate":"linear-closed","fill":"#1a1a1a","stroke":"#1a1a1a","strokeWidth":1.4,"clip":true}}]},
{"width":313,"height":313,
 "data":{"values":[{"s":"g1","i":0,"x":0.7,"y":0.961},{"s":"g1","i":1,"x":0.782,"y":0.973},{"s":"g1","i":2,"x":0.827,"y":0.943},{"s":"g1","i":3,"x":0.834,"y":0.877},{"s":"g1","i":4,"x":0.804,"y":0.802},{"s":"g1","i":5,"x":0.726,"y":0.733},{"s":"g1","i":6,"x":0.614,"y":0.679},{"s":"g1","i":7,"x":0.521,"y":0.643},{"s":"g1","i":8,"x":0.454,"y":0.636},{"s":"g1","i":9,"x":0.383,"y":0.66},{"s":"g1","i":10,"x":0.357,"y":0.711},{"s":"g1","i":11,"x":0.383,"y":0.781},{"s":"g1","i":12,"x":0.465,"y":0.853},{"s":"g1","i":13,"x":0.577,"y":0.913},
 {"s":"k1","i":0,"x":0.67,"y":0.904},{"s":"k1","i":1,"x":0.737,"y":0.919},{"s":"k1","i":2,"x":0.756,"y":0.895},{"s":"k1","i":3,"x":0.737,"y":0.85},{"s":"k1","i":4,"x":0.678,"y":0.799},{"s":"k1","i":5,"x":0.603,"y":0.757},{"s":"k1","i":6,"x":0.558,"y":0.754},{"s":"k1","i":7,"x":0.551,"y":0.79},{"s":"k1","i":8,"x":0.588,"y":0.85}]},
 "encoding":{"x":{"field":"x","type":"quantitative","scale":{"domain":[0.256,0.907],"nice":false,"zero":false},"axis":{"values":[0.3,0.45,0.6,0.75,0.9],"labels":false,"title":null}},
  "y":{"field":"y","type":"quantitative","scale":{"domain":[0.461,0.985],"nice":false,"zero":false},"axis":{"values":[0.6,0.75,0.9],"labels":false,"title":null}},
  "order":{"field":"i","type":"quantitative"},"detail":{"field":"s","type":"nominal"}},
 "layer":[{"transform":[{"filter":"substring(datum.s,0,1)=='g'"}],"mark":{"type":"line","interpolate":"linear-closed","fill":"#b2b2b2","stroke":"#1a1a1a","strokeWidth":1.4,"clip":true}},
  {"transform":[{"filter":"substring(datum.s,0,1)=='k'"}],"mark":{"type":"line","interpolate":"linear-closed","fill":"#1a1a1a","stroke":"#1a1a1a","strokeWidth":1.4,"clip":true}}]},
{"width":313,"height":313,"layer":[
 {"data":{"values":[{"x":0.461,"n":0},{"x":0.4872,"n":8},{"x":0.5134,"n":0},{"x":0.5396,"n":8},{"x":0.5658,"n":25},{"x":0.592,"n":28},{"x":0.6182,"n":76},{"x":0.6444,"n":240},{"x":0.6706,"n":218},{"x":0.6968,"n":508},{"x":0.723,"n":496},{"x":0.7492,"n":846},{"x":0.7754,"n":816},{"x":0.8016,"n":846},{"x":0.8278,"n":840},{"x":0.854,"n":828},{"x":0.8802,"n":613},{"x":0.9064,"n":418},{"x":0.9326,"n":111},{"x":0.9588,"n":16},{"x":0.985,"n":16}]},
  "mark":{"type":"line","interpolate":"step-after","stroke":"#1f1f1f","strokeWidth":1.5},
  "encoding":{"x":{"field":"x","type":"quantitative","scale":{"domain":[0.461,0.985],"nice":false,"zero":false},"axis":{"values":[0.6,0.75,0.9],"labels":false,"title":null}},"y":{"field":"n","type":"quantitative","scale":{"domain":[0,930],"nice":false},"axis":null}}},
 {"data":{"values":[{"x":0.722},{"x":0.882}]},"mark":{"type":"rule","strokeDash":[7,4],"strokeWidth":2,"color":"#1f1f1f"},"encoding":{"x":{"field":"x","type":"quantitative","scale":{"domain":[0.461,0.985],"nice":false,"zero":false}}}},
 {"data":{"values":[{"t":"t75 = 0.81","u":"+0.08","d":"−0.09"}]},"encoding":{"x":{"datum":0.7908,"type":"quantitative"},"y":{"datum":930,"type":"quantitative","axis":null}},"layer":[
  {"mark":{"type":"text","align":"right","baseline":"alphabetic","dy":-13,"fontSize":29,"font":"DejaVu Sans","color":"#262626"},"encoding":{"text":{"field":"t"}}},
  {"mark":{"type":"text","align":"left","baseline":"alphabetic","dx":1,"dy":-28,"fontSize":22,"font":"DejaVu Sans","color":"#262626"},"encoding":{"text":{"field":"u"}}},
  {"mark":{"type":"text","align":"left","baseline":"alphabetic","dx":1,"dy":-4,"fontSize":22,"font":"DejaVu Sans","color":"#262626"},"encoding":{"text":{"field":"d"}}}]}]},
{"width":313,"height":313,"view":{"stroke":null},"data":{"values":[]},"mark":"point"},
{"width":313,"height":313,"view":{"stroke":null},"data":{"values":[]},"mark":"point"},
{"width":313,"height":313,"view":{"stroke":null},"data":{"values":[]},"mark":"point"},

{"width":313,"height":313,
 "data":{"values":[{"s":"g1","i":0,"x":7.483,"y":0.295},{"s":"g1","i":1,"x":7.531,"y":-0.002},{"s":"g1","i":2,"x":7.674,"y":-0.397},{"s":"g1","i":3,"x":7.832,"y":-0.791},{"s":"g1","i":4,"x":7.991,"y":-1.251},{"s":"g1","i":5,"x":8.118,"y":-1.514},{"s":"g1","i":6,"x":8.166,"y":-1.777},{"s":"g1","i":7,"x":8.324,"y":-1.817},{"s":"g1","i":8,"x":8.435,"y":-1.712},{"s":"g1","i":9,"x":8.404,"y":-1.449},{"s":"g1","i":10,"x":8.324,"y":-1.186},{"s":"g1","i":11,"x":8.356,"y":-0.923},{"s":"g1","i":12,"x":8.419,"y":-0.528},{"s":"g1","i":13,"x":8.435,"y":-0.134},{"s":"g1","i":14,"x":8.467,"y":0.295},
 {"s":"k1","i":0,"x":7.801,"y":0.295},{"s":"k1","i":1,"x":8.277,"y":0.295},{"s":"k1","i":2,"x":8.229,"y":-0.068},{"s":"k1","i":3,"x":8.166,"y":-0.397},{"s":"k1","i":4,"x":8.087,"y":-0.726},{"s":"k1","i":5,"x":8.023,"y":-0.397},{"s":"k1","i":6,"x":7.928,"y":-0.134},{"s":"k1","i":7,"x":7.832,"y":0.129}]},
 "encoding":{"x":{"field":"x","type":"quantitative","scale":{"domain":[6.35,9.12],"nice":false,"zero":false},"axis":{"values":[6.6,7.2,7.8,8.4,9.0],"labels":false,"title":null}},
  "y":{"field":"y","type":"quantitative","scale":{"domain":[-2.0,0.295],"nice":false,"zero":false},"axis":{"values":[-1.5,-1,-0.5,0],"format":".1f","title":"Z"}},
  "order":{"field":"i","type":"quantitative"},"detail":{"field":"s","type":"nominal"}},
 "layer":[{"transform":[{"filter":"substring(datum.s,0,1)=='g'"}],"mark":{"type":"line","interpolate":"linear-closed","fill":"#b2b2b2","stroke":"#1a1a1a","strokeWidth":1.4,"clip":true}},
  {"transform":[{"filter":"substring(datum.s,0,1)=='k'"}],"mark":{"type":"line","interpolate":"linear-closed","fill":"#1a1a1a","stroke":"#1a1a1a","strokeWidth":1.4,"clip":true}}]},
{"width":313,"height":313,
 "data":{"values":[{"s":"g1","i":0,"x":-2.627,"y":0.295},{"s":"g1","i":1,"x":-2.525,"y":-0.199},{"s":"g1","i":2,"x":-2.593,"y":-0.725},{"s":"g1","i":3,"x":-2.288,"y":-1.054},{"s":"g1","i":4,"x":-1.948,"y":-1.383},{"s":"g1","i":5,"x":-1.609,"y":-1.712},{"s":"g1","i":6,"x":-1.269,"y":-1.869},{"s":"g1","i":7,"x":-0.591,"y":-1.843},{"s":"g1","i":8,"x":-0.251,"y":-1.646},{"s":"g1","i":9,"x":-0.489,"y":-1.383},{"s":"g1","i":10,"x":-0.251,"y":-0.923},{"s":"g1","i":11,"x":-0.251,"y":-0.397},{"s":"g1","i":12,"x":-0.149,"y":-0.002},{"s":"g1","i":13,"x":-0.082,"y":0.295},
 {"s":"k1","i":0,"x":-1.846,"y":0.295},{"s":"k1","i":1,"x":-0.489,"y":0.295},{"s":"k1","i":2,"x":-0.557,"y":-0.002},{"s":"k1","i":3,"x":-0.761,"y":-0.292},{"s":"k1","i":4,"x":-1.168,"y":-0.397},{"s":"k1","i":5,"x":-1.439,"y":-0.199},{"s":"k1","i":6,"x":-1.711,"y":0.064}]},
 "encoding":{"x":{"field":"x","type":"quantitative","scale":{"domain":[-5.1,0.82],"nice":false,"zero":false},"axis":{"values":[-4.5,-3,-1.5,0],"labels":false,"title":null}},
  "y":{"field":"y","type":"quantitative","scale":{"domain":[-2.0,0.295],"nice":false,"zero":false},"axis":{"values":[-1.5,-1,-0.5,0],"labels":false,"title":null}},
  "order":{"field":"i","type":"quantitative"},"detail":{"field":"s","type":"nominal"}},
 "layer":[{"transform":[{"filter":"substring(datum.s,0,1)=='g'"}],"mark":{"type":"line","interpolate":"linear-closed","fill":"#b2b2b2","stroke":"#1a1a1a","strokeWidth":1.4,"clip":true}},
  {"transform":[{"filter":"substring(datum.s,0,1)=='k'"}],"mark":{"type":"line","interpolate":"linear-closed","fill":"#1a1a1a","stroke":"#1a1a1a","strokeWidth":1.4,"clip":true}}]},
{"width":313,"height":313,
 "data":{"values":[{"s":"g1","i":0,"x":0.246,"y":0.295},{"s":"g1","i":1,"x":0.257,"y":-0.265},{"s":"g1","i":2,"x":0.276,"y":-0.594},{"s":"g1","i":3,"x":0.324,"y":-0.765},{"s":"g1","i":4,"x":0.35,"y":-0.988},{"s":"g1","i":5,"x":0.379,"y":-1.317},{"s":"g1","i":6,"x":0.342,"y":-1.514},{"s":"g1","i":7,"x":0.387,"y":-1.712},{"s":"g1","i":8,"x":0.424,"y":-1.843},{"s":"g1","i":9,"x":0.468,"y":-1.817},{"s":"g1","i":10,"x":0.498,"y":-1.58},{"s":"g1","i":11,"x":0.509,"y":-1.186},{"s":"g1","i":12,"x":0.527,"y":-0.791},{"s":"g1","i":13,"x":0.59,"y":-0.462},{"s":"g1","i":14,"x":0.646,"y":-0.068},{"s":"g1","i":15,"x":0.664,"y":0.295},
 {"s":"k1","i":0,"x":0.313,"y":0.295},{"s":"k1","i":1,"x":0.331,"y":-0.002},{"s":"k1","i":2,"x":0.387,"y":-0.239},{"s":"k1","i":3,"x":0.442,"y":-0.331},{"s":"k1","i":4,"x":0.498,"y":-0.199},{"s":"k1","i":5,"x":0.553,"y":-0.002},{"s":"k1","i":6,"x":0.59,"y":0.195},{"s":"k1","i":7,"x":0.601,"y":0.295}]},
 "encoding":{"x":{"field":"x","type":"quantitative","scale":{"domain":[0.148,0.794],"nice":false,"zero":false},"axis":{"values":[0.15,0.3,0.45,0.6,0.75],"labels":false,"title":null}},
  "y":{"field":"y","type":"quantitative","scale":{"domain":[-2.0,0.295],"nice":false,"zero":false},"axis":{"values":[-1.5,-1,-0.5,0],"labels":false,"title":null}},
  "order":{"field":"i","type":"quantitative"},"detail":{"field":"s","type":"nominal"}},
 "layer":[{"transform":[{"filter":"substring(datum.s,0,1)=='g'"}],"mark":{"type":"line","interpolate":"linear-closed","fill":"#b2b2b2","stroke":"#1a1a1a","strokeWidth":1.4,"clip":true}},
  {"transform":[{"filter":"substring(datum.s,0,1)=='k'"}],"mark":{"type":"line","interpolate":"linear-closed","fill":"#1a1a1a","stroke":"#1a1a1a","strokeWidth":1.4,"clip":true}}]},
{"width":313,"height":313,
 "data":{"values":[{"s":"g1","i":0,"x":0.428,"y":0.295},{"s":"g1","i":1,"x":0.439,"y":-0.134},{"s":"g1","i":2,"x":0.454,"y":-0.555},{"s":"g1","i":3,"x":0.521,"y":-0.726},{"s":"g1","i":4,"x":0.543,"y":-0.923},{"s":"g1","i":5,"x":0.551,"y":-1.317},{"s":"g1","i":6,"x":0.551,"y":-1.712},{"s":"g1","i":7,"x":0.614,"y":-1.817},{"s":"g1","i":8,"x":0.689,"y":-1.777},{"s":"g1","i":9,"x":0.715,"y":-1.554},{"s":"g1","i":10,"x":0.707,"y":-1.186},{"s":"g1","i":11,"x":0.745,"y":-0.818},{"s":"g1","i":12,"x":0.782,"y":-0.594},{"s":"g1","i":13,"x":0.771,"y":-0.397},{"s":"g1","i":14,"x":0.79,"y":-0.199},{"s":"g1","i":15,"x":0.782,"y":0.295},
 {"s":"k1","i":0,"x":0.502,"y":0.295},{"s":"k1","i":1,"x":0.521,"y":-0.002},{"s":"k1","i":2,"x":0.566,"y":-0.265},{"s":"k1","i":3,"x":0.622,"y":-0.397},{"s":"k1","i":4,"x":0.678,"y":-0.265},{"s":"k1","i":5,"x":0.726,"y":-0.002},{"s":"k1","i":6,"x":0.756,"y":0.195},{"s":"k1","i":7,"x":0.763,"y":0.295}]},
 "encoding":{"x":{"field":"x","type":"quantitative","scale":{"domain":[0.256,0.907],"nice":false,"zero":false},"axis":{"values":[0.3,0.45,0.6,0.75,0.9],"labels":false,"title":null}},
  "y":{"field":"y","type":"quantitative","scale":{"domain":[-2.0,0.295],"nice":false,"zero":false},"axis":{"values":[-1.5,-1,-0.5,0],"labels":false,"title":null}},
  "order":{"field":"i","type":"quantitative"},"detail":{"field":"s","type":"nominal"}},
 "layer":[{"transform":[{"filter":"substring(datum.s,0,1)=='g'"}],"mark":{"type":"line","interpolate":"linear-closed","fill":"#b2b2b2","stroke":"#1a1a1a","strokeWidth":1.4,"clip":true}},
  {"transform":[{"filter":"substring(datum.s,0,1)=='k'"}],"mark":{"type":"line","interpolate":"linear-closed","fill":"#1a1a1a","stroke":"#1a1a1a","strokeWidth":1.4,"clip":true}}]},
{"width":313,"height":313,
 "data":{"values":[{"s":"g1","i":0,"x":0.628,"y":0.295},{"s":"g1","i":1,"x":0.634,"y":-0.134},{"s":"g1","i":2,"x":0.664,"y":-0.528},{"s":"g1","i":3,"x":0.703,"y":-0.791},{"s":"g1","i":4,"x":0.724,"y":-1.054},{"s":"g1","i":5,"x":0.718,"y":-1.343},{"s":"g1","i":6,"x":0.694,"y":-1.514},{"s":"g1","i":7,"x":0.709,"y":-1.672},{"s":"g1","i":8,"x":0.784,"y":-1.738},{"s":"g1","i":9,"x":0.835,"y":-1.764},{"s":"g1","i":10,"x":0.844,"y":-1.514},{"s":"g1","i":11,"x":0.862,"y":-1.251},{"s":"g1","i":12,"x":0.895,"y":-1.054},{"s":"g1","i":13,"x":0.922,"y":-0.791},{"s":"g1","i":14,"x":0.928,"y":-0.397},{"s":"g1","i":15,"x":0.916,"y":-0.002},{"s":"g1","i":16,"x":0.916,"y":0.295},
 {"s":"k1","i":0,"x":0.715,"y":0.295},{"s":"k1","i":1,"x":0.718,"y":-0.002},{"s":"k1","i":2,"x":0.739,"y":-0.265},{"s":"k1","i":3,"x":0.784,"y":-0.344},{"s":"k1","i":4,"x":0.829,"y":-0.37},{"s":"k1","i":5,"x":0.859,"y":-0.265},{"s":"k1","i":6,"x":0.889,"y":-0.397},{"s":"k1","i":7,"x":0.91,"y":-0.265},{"s":"k1","i":8,"x":0.919,"y":0.129},{"s":"k1","i":9,"x":0.919,"y":0.295}]},
 "encoding":{"x":{"field":"x","type":"quantitative","scale":{"domain":[0.461,0.985],"nice":false,"zero":false},"axis":{"values":[0.6,0.75,0.9],"labels":false,"title":null}},
  "y":{"field":"y","type":"quantitative","scale":{"domain":[-2.0,0.295],"nice":false,"zero":false},"axis":{"values":[-1.5,-1,-0.5,0],"labels":false,"title":null}},
  "order":{"field":"i","type":"quantitative"},"detail":{"field":"s","type":"nominal"}},
 "layer":[{"transform":[{"filter":"substring(datum.s,0,1)=='g'"}],"mark":{"type":"line","interpolate":"linear-closed","fill":"#b2b2b2","stroke":"#1a1a1a","strokeWidth":1.4,"clip":true}},
  {"transform":[{"filter":"substring(datum.s,0,1)=='k'"}],"mark":{"type":"line","interpolate":"linear-closed","fill":"#1a1a1a","stroke":"#1a1a1a","strokeWidth":1.4,"clip":true}}]},
{"width":313,"height":313,"layer":[
 {"data":{"values":[{"x":-2.0,"n":33},{"x":-1.88525,"n":68},{"x":-1.7705,"n":133},{"x":-1.65575,"n":173},{"x":-1.541,"n":160},{"x":-1.42625,"n":96},{"x":-1.3115,"n":105},{"x":-1.19675,"n":240},{"x":-1.082,"n":174},{"x":-0.96725,"n":210},{"x":-0.8525,"n":306},{"x":-0.73775,"n":366},{"x":-0.623,"n":280},{"x":-0.50825,"n":385},{"x":-0.3935,"n":391},{"x":-0.27875,"n":450},{"x":-0.164,"n":589},{"x":-0.04925,"n":637},{"x":0.0655,"n":848},{"x":0.18025,"n":729},{"x":0.295,"n":729}]},
  "mark":{"type":"line","interpolate":"step-after","stroke":"#1f1f1f","strokeWidth":1.5},
  "encoding":{"x":{"field":"x","type":"quantitative","scale":{"domain":[-2.0,0.295],"nice":false,"zero":false},"axis":{"values":[-1.5,-1,-0.5,0],"labels":false,"title":null}},"y":{"field":"n","type":"quantitative","scale":{"domain":[0,933],"nice":false},"axis":null}}},
 {"data":{"values":[{"x":-1.09},{"x":0.14}]},"mark":{"type":"rule","strokeDash":[7,4],"strokeWidth":2,"color":"#1f1f1f"},"encoding":{"x":{"field":"x","type":"quantitative","scale":{"domain":[-2.0,0.295],"nice":false,"zero":false}}}},
 {"data":{"values":[{"t":"Z = −0.26","u":"+0.40","d":"−0.83"}]},"encoding":{"x":{"datum":-0.5358,"type":"quantitative"},"y":{"datum":933,"type":"quantitative","axis":null}},"layer":[
  {"mark":{"type":"text","align":"right","baseline":"alphabetic","dy":-13,"fontSize":29,"font":"DejaVu Sans","color":"#262626"},"encoding":{"text":{"field":"t"}}},
  {"mark":{"type":"text","align":"left","baseline":"alphabetic","dx":1,"dy":-28,"fontSize":22,"font":"DejaVu Sans","color":"#262626"},"encoding":{"text":{"field":"u"}}},
  {"mark":{"type":"text","align":"left","baseline":"alphabetic","dx":1,"dy":-4,"fontSize":22,"font":"DejaVu Sans","color":"#262626"},"encoding":{"text":{"field":"d"}}}]}]},
{"width":313,"height":313,"view":{"stroke":null},"data":{"values":[]},"mark":"point"},
{"width":313,"height":313,"view":{"stroke":null},"data":{"values":[]},"mark":"point"},

{"width":313,"height":313,
 "data":{"values":[{"s":"g1","i":0,"x":8.118,"y":1.457},{"s":"g1","i":1,"x":8.277,"y":1.503},{"s":"g1","i":2,"x":8.404,"y":1.344},{"s":"g1","i":3,"x":8.451,"y":0.982},{"s":"g1","i":4,"x":8.445,"y":0.855},{"s":"g1","i":5,"x":8.43,"y":0.492},{"s":"g1","i":6,"x":8.379,"y":0.217},{"s":"g1","i":7,"x":8.353,"y":0},{"s":"g1","i":8,"x":7.912,"y":0},{"s":"g1","i":9,"x":7.846,"y":0.264},{"s":"g1","i":10,"x":7.718,"y":0.514},{"s":"g1","i":11,"x":7.592,"y":0.696},{"s":"g1","i":12,"x":7.541,"y":0.878},{"s":"g1","i":13,"x":7.551,"y":1.015},{"s":"g1","i":14,"x":7.644,"y":1.207},{"s":"g1","i":15,"x":7.88,"y":1.298},{"s":"g1","i":16,"x":8.0,"y":1.4},
 {"s":"k1","i":0,"x":7.871,"y":0.9},{"s":"k1","i":1,"x":7.947,"y":1.015},{"s":"k1","i":2,"x":8.1,"y":1.073},{"s":"k1","i":3,"x":8.201,"y":0.946},{"s":"k1","i":4,"x":8.262,"y":0.81},{"s":"k1","i":5,"x":8.262,"y":0.627},{"s":"k1","i":6,"x":8.211,"y":0.468},{"s":"k1","i":7,"x":8.1,"y":0.309},{"s":"k1","i":8,"x":7.988,"y":0.445},{"s":"k1","i":9,"x":7.881,"y":0.673}]},
 "encoding":{"x":{"field":"x","type":"quantitative","scale":{"domain":[6.35,9.12],"nice":false,"zero":false},"axis":{"values":[6.6,7.2,7.8,8.4,9.0],"labels":false,"title":null}},
  "y":{"field":"y","type":"quantitative","scale":{"domain":[0,3.95],"nice":false,"zero":false},"axis":{"values":[0.8,1.6,2.4,3.2],"format":".1f","title":"Av"}},
  "order":{"field":"i","type":"quantitative"},"detail":{"field":"s","type":"nominal"}},
 "layer":[{"transform":[{"filter":"substring(datum.s,0,1)=='g'"}],"mark":{"type":"line","interpolate":"linear-closed","fill":"#b2b2b2","stroke":"#1a1a1a","strokeWidth":1.4,"clip":true}},
  {"transform":[{"filter":"substring(datum.s,0,1)=='k'"}],"mark":{"type":"line","interpolate":"linear-closed","fill":"#1a1a1a","stroke":"#1a1a1a","strokeWidth":1.4,"clip":true}}]},
{"width":313,"height":313,
 "data":{"values":[{"s":"g1","i":0,"x":-0.591,"y":1.842},{"s":"g1","i":1,"x":-0.252,"y":1.706},{"s":"g1","i":2,"x":-0.149,"y":1.366},{"s":"g1","i":3,"x":-0.123,"y":1.128},{"s":"g1","i":4,"x":-0.144,"y":0.855},{"s":"g1","i":5,"x":-0.307,"y":0.492},{"s":"g1","i":6,"x":-0.578,"y":0.217},{"s":"g1","i":7,"x":-1.265,"y":0},{"s":"g1","i":8,"x":-2.398,"y":0},{"s":"g1","i":9,"x":-2.791,"y":0.491},{"s":"g1","i":10,"x":-2.649,"y":0.696},{"s":"g1","i":11,"x":-2.267,"y":0.878},{"s":"g1","i":12,"x":-1.83,"y":1.128},{"s":"g1","i":13,"x":-1.55,"y":1.4},{"s":"g1","i":14,"x":-1.2,"y":1.7},{"s":"g1","i":15,"x":-0.9,"y":1.83},
 {"s":"k1","i":0,"x":-1.669,"y":0.878},{"s":"k1","i":1,"x":-1.396,"y":1.015},{"s":"k1","i":2,"x":-1.015,"y":1.105},{"s":"k1","i":3,"x":-0.75,"y":1.2},{"s":"k1","i":4,"x":-0.688,"y":1.06},{"s":"k1","i":5,"x":-0.578,"y":0.9},{"s":"k1","i":6,"x":-0.688,"y":0.627},{"s":"k1","i":7,"x":-1.015,"y":0.468},{"s":"k1","i":8,"x":-1.375,"y":0.422},{"s":"k1","i":9,"x":-1.669,"y":0.583},{"s":"k1","i":10,"x":-1.722,"y":0.742}]},
 "encoding":{"x":{"field":"x","type":"quantitative","scale":{"domain":[-5.1,0.82],"nice":false,"zero":false},"axis":{"values":[-4.5,-3,-1.5,0],"labels":false,"title":null}},
  "y":{"field":"y","type":"quantitative","scale":{"domain":[0,3.95],"nice":false,"zero":false},"axis":{"values":[0.8,1.6,2.4,3.2],"labels":false,"title":null}},
  "order":{"field":"i","type":"quantitative"},"detail":{"field":"s","type":"nominal"}},
 "layer":[{"transform":[{"filter":"substring(datum.s,0,1)=='g'"}],"mark":{"type":"line","interpolate":"linear-closed","fill":"#b2b2b2","stroke":"#1a1a1a","strokeWidth":1.4,"clip":true}},
  {"transform":[{"filter":"substring(datum.s,0,1)=='k'"}],"mark":{"type":"line","interpolate":"linear-closed","fill":"#1a1a1a","stroke":"#1a1a1a","strokeWidth":1.4,"clip":true}}]},
{"width":313,"height":313,
 "data":{"values":[{"s":"g1","i":0,"x":0.35,"y":1.435},{"s":"g1","i":1,"x":0.461,"y":1.571},{"s":"g1","i":2,"x":0.553,"y":1.48},{"s":"g1","i":3,"x":0.609,"y":1.254},{"s":"g1","i":4,"x":0.646,"y":0.982},{"s":"g1","i":5,"x":0.653,"y":0.62},{"s":"g1","i":6,"x":0.609,"y":0.303},{"s":"g1","i":7,"x":0.553,"y":0},{"s":"g1","i":8,"x":0.368,"y":0},{"s":"g1","i":9,"x":0.313,"y":0.122},{"s":"g1","i":10,"x":0.268,"y":0.348},{"s":"g1","i":11,"x":0.25,"y":0.756},{"s":"g1","i":12,"x":0.268,"y":1.141},{"s":"g1","i":13,"x":0.305,"y":1.322},
 {"s":"k1","i":0,"x":0.387,"y":1.072},{"s":"k1","i":1,"x":0.461,"y":1.14},{"s":"k1","i":2,"x":0.516,"y":0.982},{"s":"k1","i":3,"x":0.542,"y":0.756},{"s":"k1","i":4,"x":0.509,"y":0.506},{"s":"k1","i":5,"x":0.442,"y":0.348},{"s":"k1","i":6,"x":0.368,"y":0.393},{"s":"k1","i":7,"x":0.339,"y":0.62},{"s":"k1","i":8,"x":0.35,"y":0.914}]},
 "encoding":{"x":{"field":"x","type":"quantitative","scale":{"domain":[0.148,0.794],"nice":false,"zero":false},"axis":{"values":[0.15,0.3,0.45,0.6,0.75],"labels":false,"title":null}},
  "y":{"field":"y","type":"quantitative","scale":{"domain":[0,3.95],"nice":false,"zero":false},"axis":{"values":[0.8,1.6,2.4,3.2],"labels":false,"title":null}},
  "order":{"field":"i","type":"quantitative"},"detail":{"field":"s","type":"nominal"}},
 "layer":[{"transform":[{"filter":"substring(datum.s,0,1)=='g'"}],"mark":{"type":"line","interpolate":"linear-closed","fill":"#b2b2b2","stroke":"#1a1a1a","strokeWidth":1.4,"clip":true}},
  {"transform":[{"filter":"substring(datum.s,0,1)=='k'"}],"mark":{"type":"line","interpolate":"linear-closed","fill":"#1a1a1a","stroke":"#1a1a1a","strokeWidth":1.4,"clip":true}}]},
{"width":313,"height":313,
 "data":{"values":[{"s":"g1","i":0,"x":0.521,"y":1.367},{"s":"g1","i":1,"x":0.603,"y":1.526},{"s":"g1","i":2,"x":0.689,"y":1.571},{"s":"g1","i":3,"x":0.756,"y":1.435},{"s":"g1","i":4,"x":0.79,"y":1.141},{"s":"g1","i":5,"x":0.808,"y":0.846},{"s":"g1","i":6,"x":0.782,"y":0.461},{"s":"g1","i":7,"x":0.707,"y":0.235},{"s":"g1","i":8,"x":0.689,"y":0},{"s":"g1","i":9,"x":0.484,"y":0},{"s":"g1","i":10,"x":0.446,"y":0.235},{"s":"g1","i":11,"x":0.431,"y":0.62},{"s":"g1","i":12,"x":0.439,"y":0.982},{"s":"g1","i":13,"x":0.476,"y":1.254},
 {"s":"k1","i":0,"x":0.596,"y":1.027},{"s":"k1","i":1,"x":0.678,"y":1.14},{"s":"k1","i":2,"x":0.734,"y":0.982},{"s":"k1","i":3,"x":0.745,"y":0.756},{"s":"k1","i":4,"x":0.715,"y":0.506},{"s":"k1","i":5,"x":0.652,"y":0.371},{"s":"k1","i":6,"x":0.577,"y":0.393},{"s":"k1","i":7,"x":0.547,"y":0.62},{"s":"k1","i":8,"x":0.558,"y":0.891}]},
 "encoding":{"x":{"field":"x","type":"quantitative","scale":{"domain":[0.256,0.907],"nice":false,"zero":false},"axis":{"values":[0.3,0.45,0.6,0.75,0.9],"labels":false,"title":null}},
  "y":{"field":"y","type":"quantitative","scale":{"domain":[0,3.95],"nice":false,"zero":false},"axis":{"values":[0.8,1.6,2.4,3.2],"labels":false,"title":null}},
  "order":{"field":"i","type":"quantitative"},"detail":{"field":"s","type":"nominal"}},
 "layer":[{"transform":[{"filter":"substring(datum.s,0,1)=='g'"}],"mark":{"type":"line","interpolate":"linear-closed","fill":"#b2b2b2","stroke":"#1a1a1a","strokeWidth":1.4,"clip":true}},
  {"transform":[{"filter":"substring(datum.s,0,1)=='k'"}],"mark":{"type":"line","interpolate":"linear-closed","fill":"#1a1a1a","stroke":"#1a1a1a","strokeWidth":1.4,"clip":true}}]},
{"width":313,"height":313,
 "data":{"values":[{"s":"g1","i":0,"x":0.724,"y":1.141},{"s":"g1","i":1,"x":0.799,"y":1.367},{"s":"g1","i":2,"x":0.868,"y":1.435},{"s":"g1","i":3,"x":0.904,"y":1.299},{"s":"g1","i":4,"x":0.922,"y":0.982},{"s":"g1","i":5,"x":0.916,"y":0.575},{"s":"g1","i":6,"x":0.874,"y":0.303},{"s":"g1","i":7,"x":0.829,"y":0.19},{"s":"g1","i":8,"x":0.82,"y":0},{"s":"g1","i":9,"x":0.679,"y":0},{"s":"g1","i":10,"x":0.634,"y":0.122},{"s":"g1","i":11,"x":0.628,"y":0.461},{"s":"g1","i":12,"x":0.658,"y":0.801},{"s":"g1","i":13,"x":0.688,"y":0.982},
 {"s":"k1","i":0,"x":0.769,"y":1.027},{"s":"k1","i":1,"x":0.844,"y":1.14},{"s":"k1","i":2,"x":0.889,"y":1.027},{"s":"k1","i":3,"x":0.898,"y":0.801},{"s":"k1","i":4,"x":0.874,"y":0.529},{"s":"k1","i":5,"x":0.814,"y":0.438},{"s":"k1","i":6,"x":0.754,"y":0.416},{"s":"k1","i":7,"x":0.733,"y":0.62},{"s":"k1","i":8,"x":0.742,"y":0.891}]},
 "encoding":{"x":{"field":"x","type":"quantitative","scale":{"domain":[0.461,0.985],"nice":false,"zero":false},"axis":{"values":[0.6,0.75,0.9],"labels":false,"title":null}},
  "y":{"field":"y","type":"quantitative","scale":{"domain":[0,3.95],"nice":false,"zero":false},"axis":{"values":[0.8,1.6,2.4,3.2],"labels":false,"title":null}},
  "order":{"field":"i","type":"quantitative"},"detail":{"field":"s","type":"nominal"}},
 "layer":[{"transform":[{"filter":"substring(datum.s,0,1)=='g'"}],"mark":{"type":"line","interpolate":"linear-closed","fill":"#b2b2b2","stroke":"#1a1a1a","strokeWidth":1.4,"clip":true}},
  {"transform":[{"filter":"substring(datum.s,0,1)=='k'"}],"mark":{"type":"line","interpolate":"linear-closed","fill":"#1a1a1a","stroke":"#1a1a1a","strokeWidth":1.4,"clip":true}}]},
{"width":313,"height":313,
 "data":{"values":[{"s":"g1","i":0,"x":-1.841,"y":1.548},{"s":"g1","i":1,"x":-1.684,"y":1.48},{"s":"g1","i":2,"x":-1.421,"y":1.34},{"s":"g1","i":3,"x":-1.223,"y":1.33},{"s":"g1","i":4,"x":-0.96,"y":1.27},{"s":"g1","i":5,"x":-0.697,"y":1.19},{"s":"g1","i":6,"x":-0.434,"y":1.13},{"s":"g1","i":7,"x":-0.171,"y":1.17},{"s":"g1","i":8,"x":0.092,"y":1.28},{"s":"g1","i":9,"x":0.295,"y":1.32},{"s":"g1","i":10,"x":0.295,"y":0},{"s":"g1","i":11,"x":-0.263,"y":0},{"s":"g1","i":12,"x":-0.394,"y":0.17},{"s":"g1","i":13,"x":-0.736,"y":0.28},{"s":"g1","i":14,"x":-1.157,"y":0.6},{"s":"g1","i":15,"x":-1.421,"y":0.83},{"s":"g1","i":16,"x":-1.684,"y":1.04},{"s":"g1","i":17,"x":-1.841,"y":1.23},{"s":"g1","i":18,"x":-1.881,"y":1.412},
 {"s":"k1","i":0,"x":-0.368,"y":0.849},{"s":"k1","i":1,"x":-0.171,"y":1.03},{"s":"k1","i":2,"x":0.026,"y":1.122},{"s":"k1","i":3,"x":0.295,"y":1.19},{"s":"k1","i":4,"x":0.295,"y":0.126},{"s":"k1","i":5,"x":0.132,"y":0.19},{"s":"k1","i":6,"x":-0.066,"y":0.349},{"s":"k1","i":7,"x":-0.263,"y":0.575},{"s":"k1","i":8,"x":-0.368,"y":0.711}]},
 "encoding":{"x":{"field":"x","type":"quantitative","scale":{"domain":[-2.0,0.295],"nice":false,"zero":false},"axis":{"values":[-1.5,-1,-0.5,0],"labels":false,"title":null}},
  "y":{"field":"y","type":"quantitative","scale":{"domain":[0,3.95],"nice":false,"zero":false},"axis":{"values":[0.8,1.6,2.4,3.2],"labels":false,"title":null}},
  "order":{"field":"i","type":"quantitative"},"detail":{"field":"s","type":"nominal"}},
 "layer":[{"transform":[{"filter":"substring(datum.s,0,1)=='g'"}],"mark":{"type":"line","interpolate":"linear-closed","fill":"#b2b2b2","stroke":"#1a1a1a","strokeWidth":1.4,"clip":true}},
  {"transform":[{"filter":"substring(datum.s,0,1)=='k'"}],"mark":{"type":"line","interpolate":"linear-closed","fill":"#1a1a1a","stroke":"#1a1a1a","strokeWidth":1.4,"clip":true}}]},
{"width":313,"height":313,"layer":[
 {"data":{"values":[{"x":0,"n":82},{"x":0.1975,"n":256},{"x":0.395,"n":561},{"x":0.5925,"n":768},{"x":0.79,"n":849},{"x":0.9875,"n":383},{"x":1.185,"n":238},{"x":1.3825,"n":184},{"x":1.58,"n":66},{"x":1.7775,"n":9},{"x":1.975,"n":4},{"x":2.1725,"n":1},{"x":2.37,"n":0},{"x":2.5675,"n":0},{"x":2.765,"n":0},{"x":2.9625,"n":0},{"x":3.16,"n":0},{"x":3.3575,"n":0},{"x":3.555,"n":0},{"x":3.7525,"n":0},{"x":3.95,"n":0}]},
  "mark":{"type":"line","interpolate":"step-after","stroke":"#1f1f1f","strokeWidth":1.5},
  "encoding":{"x":{"field":"x","type":"quantitative","scale":{"domain":[0,3.95],"nice":false,"zero":false},"axis":{"values":[0.8,1.6,2.4,3.2],"labels":false,"title":null}},"y":{"field":"n","type":"quantitative","scale":{"domain":[0,934],"nice":false},"axis":null}}},
 {"data":{"values":[{"x":0.47},{"x":1.17}]},"mark":{"type":"rule","strokeDash":[7,4],"strokeWidth":2,"color":"#1f1f1f"},"encoding":{"x":{"field":"x","type":"quantitative","scale":{"domain":[0,3.95],"nice":false,"zero":false}}}},
 {"data":{"values":[{"t":"Av = 0.80","u":"+0.37","d":"−0.33"}]},"encoding":{"x":{"datum":2.482,"type":"quantitative"},"y":{"datum":934,"type":"quantitative","axis":null}},"layer":[
  {"mark":{"type":"text","align":"right","baseline":"alphabetic","dy":-13,"fontSize":29,"font":"DejaVu Sans","color":"#262626"},"encoding":{"text":{"field":"t"}}},
  {"mark":{"type":"text","align":"left","baseline":"alphabetic","dx":1,"dy":-28,"fontSize":22,"font":"DejaVu Sans","color":"#262626"},"encoding":{"text":{"field":"u"}}},
  {"mark":{"type":"text","align":"left","baseline":"alphabetic","dx":1,"dy":-4,"fontSize":22,"font":"DejaVu Sans","color":"#262626"},"encoding":{"text":{"field":"d"}}}]}]},
{"width":313,"height":313,"view":{"stroke":null},"data":{"values":[]},"mark":"point"},

{"width":313,"height":313,
 "data":{"values":[{"s":"g1","i":0,"x":7.734,"y":1.9993},{"s":"g1","i":1,"x":7.754,"y":1.9815},{"s":"g1","i":2,"x":7.744,"y":1.9643},{"s":"g1","i":3,"x":7.729,"y":1.9413},{"s":"g1","i":4,"x":7.769,"y":1.9218},{"s":"g1","i":5,"x":7.81,"y":1.9115},{"s":"g1","i":6,"x":7.708,"y":1.8995},{"s":"g1","i":7,"x":8.359,"y":1.8995},{"s":"g1","i":8,"x":8.379,"y":1.9184},{"s":"g1","i":9,"x":8.379,"y":1.9413},{"s":"g1","i":10,"x":8.394,"y":1.9643},{"s":"g1","i":11,"x":8.404,"y":1.9815},{"s":"g1","i":12,"x":8.379,"y":1.9993},
 {"s":"k1","i":0,"x":7.962,"y":1.9993},{"s":"k1","i":1,"x":8.008,"y":1.9815},{"s":"k1","i":2,"x":7.962,"y":1.9643},{"s":"k1","i":3,"x":7.912,"y":1.9528},{"s":"k1","i":4,"x":7.947,"y":1.9356},{"s":"k1","i":5,"x":8.008,"y":1.9218},{"s":"k1","i":6,"x":7.972,"y":1.8995},{"s":"k1","i":7,"x":8.186,"y":1.8995},{"s":"k1","i":8,"x":8.15,"y":1.9218},{"s":"k1","i":9,"x":8.226,"y":1.9356},{"s":"k1","i":10,"x":8.252,"y":1.9528},{"s":"k1","i":11,"x":8.211,"y":1.9643},{"s":"k1","i":12,"x":8.226,"y":1.9815},{"s":"k1","i":13,"x":8.201,"y":1.9993}]},
 "encoding":{"x":{"field":"x","type":"quantitative","scale":{"domain":[6.35,9.12],"nice":false,"zero":false},"axis":{"values":[6.6,7.2,7.8,8.4,9.0],"format":".1f","title":"log M*"}},
  "y":{"field":"y","type":"quantitative","scale":{"domain":[1.8995,1.9993],"nice":false,"zero":false},"axis":{"values":[1.9,1.92,1.94,1.96,1.98],"format":".2f","title":"z"}},
  "order":{"field":"i","type":"quantitative"},"detail":{"field":"s","type":"nominal"}},
 "layer":[{"transform":[{"filter":"substring(datum.s,0,1)=='g'"}],"mark":{"type":"line","interpolate":"linear-closed","fill":"#b2b2b2","stroke":"#1a1a1a","strokeWidth":1.4,"clip":true}},
  {"transform":[{"filter":"substring(datum.s,0,1)=='k'"}],"mark":{"type":"line","interpolate":"linear-closed","fill":"#1a1a1a","stroke":"#1a1a1a","strokeWidth":1.4,"clip":true}}]},
{"width":313,"height":313,
 "data":{"values":[{"s":"g1","i":0,"x":-2.214,"y":1.9993},{"s":"g1","i":1,"x":-2.29,"y":1.9815},{"s":"g1","i":2,"x":-2.485,"y":1.9671},{"s":"g1","i":3,"x":-2.398,"y":1.9597},{"s":"g1","i":4,"x":-2.235,"y":1.9528},{"s":"g1","i":5,"x":-2.267,"y":1.9356},{"s":"g1","i":6,"x":-2.322,"y":1.9184},{"s":"g1","i":7,"x":-2.354,"y":1.8995},{"s":"g1","i":8,"x":-0.252,"y":1.8995},{"s":"g1","i":9,"x":-0.219,"y":1.9184},{"s":"g1","i":10,"x":-0.198,"y":1.9356},{"s":"g1","i":11,"x":-0.219,"y":1.9585},{"s":"g1","i":12,"x":-0.144,"y":1.9758},{"s":"g1","i":13,"x":-0.176,"y":1.9815},{"s":"g1","i":14,"x":-0.111,"y":1.9993},
 {"s":"k1","i":0,"x":-1.341,"y":1.9993},{"s":"k1","i":1,"x":-1.396,"y":1.9815},{"s":"k1","i":2,"x":-1.396,"y":1.962},{"s":"k1","i":3,"x":-1.559,"y":1.9528},{"s":"k1","i":4,"x":-1.614,"y":1.9413},{"s":"k1","i":5,"x":-1.341,"y":1.9298},{"s":"k1","i":6,"x":-1.123,"y":1.9224},{"s":"k1","i":7,"x":-1.07,"y":1.9212},{"s":"k1","i":8,"x":-1.396,"y":1.9115},{"s":"k1","i":9,"x":-1.504,"y":1.8995},{"s":"k1","i":10,"x":-0.72,"y":1.8995},{"s":"k1","i":11,"x":-0.764,"y":1.9046},{"s":"k1","i":12,"x":-0.797,"y":1.9184},{"s":"k1","i":13,"x":-0.764,"y":1.9356},{"s":"k1","i":14,"x":-0.654,"y":1.9471},{"s":"k1","i":15,"x":-0.688,"y":1.9585},{"s":"k1","i":16,"x":-0.96,"y":1.9666},{"s":"k1","i":17,"x":-0.797,"y":1.9735},{"s":"k1","i":18,"x":-0.743,"y":1.9872},{"s":"k1","i":19,"x":-0.654,"y":1.9993}]},
 "encoding":{"x":{"field":"x","type":"quantitative","scale":{"domain":[-5.1,0.82],"nice":false,"zero":false},"axis":{"values":[-4.5,-3,-1.5,0],"format":".1f","title":"log SFR"}},
  "y":{"field":"y","type":"quantitative","scale":{"domain":[1.8995,1.9993],"nice":false,"zero":false},"axis":{"values":[1.9,1.92,1.94,1.96,1.98],"labels":false,"title":null}},
  "order":{"field":"i","type":"quantitative"},"detail":{"field":"s","type":"nominal"}},
 "layer":[{"transform":[{"filter":"substring(datum.s,0,1)=='g'"}],"mark":{"type":"line","interpolate":"linear-closed","fill":"#b2b2b2","stroke":"#1a1a1a","strokeWidth":1.4,"clip":true}},
  {"transform":[{"filter":"substring(datum.s,0,1)=='k'"}],"mark":{"type":"line","interpolate":"linear-closed","fill":"#1a1a1a","stroke":"#1a1a1a","strokeWidth":1.4,"clip":true}}]},
{"width":313,"height":313,
 "data":{"values":[{"s":"g1","i":0,"x":0.287,"y":1.9993},{"s":"g1","i":1,"x":0.276,"y":1.9846},{"s":"g1","i":2,"x":0.261,"y":1.9646},{"s":"g1","i":3,"x":0.272,"y":1.9503},{"s":"g1","i":4,"x":0.279,"y":1.936},{"s":"g1","i":5,"x":0.261,"y":1.916},{"s":"g1","i":6,"x":0.268,"y":1.8995},{"s":"g1","i":7,"x":0.605,"y":1.8995},{"s":"g1","i":8,"x":0.62,"y":1.9131},{"s":"g1","i":9,"x":0.598,"y":1.9274},{"s":"g1","i":10,"x":0.609,"y":1.9434},{"s":"g1","i":11,"x":0.631,"y":1.9548},{"s":"g1","i":12,"x":0.598,"y":1.9703},{"s":"g1","i":13,"x":0.616,"y":1.9846},{"s":"g1","i":14,"x":0.609,"y":1.9993},
 {"s":"k1","i":0,"x":0.387,"y":1.9993},{"s":"k1","i":1,"x":0.468,"y":1.9993},{"s":"k1","i":2,"x":0.461,"y":1.9875},{"s":"k1","i":3,"x":0.498,"y":1.9674},{"s":"k1","i":4,"x":0.516,"y":1.9531},{"s":"k1","i":5,"x":0.461,"y":1.936},{"s":"k1","i":6,"x":0.472,"y":1.916},{"s":"k1","i":7,"x":0.524,"y":1.8995},{"s":"k1","i":8,"x":0.387,"y":1.8995},{"s":"k1","i":9,"x":0.376,"y":1.916},{"s":"k1","i":10,"x":0.339,"y":1.9332},{"s":"k1","i":11,"x":0.368,"y":1.9503},{"s":"k1","i":12,"x":0.35,"y":1.9674},{"s":"k1","i":13,"x":0.376,"y":1.9846},
 {"s":"k2","i":0,"x":0.487,"y":1.9993},{"s":"k2","i":1,"x":0.52,"y":1.9993},{"s":"k2","i":2,"x":0.516,"y":1.9949},{"s":"k2","i":3,"x":0.49,"y":1.9949}]},
 "encoding":{"x":{"field":"x","type":"quantitative","scale":{"domain":[0.148,0.794],"nice":false,"zero":false},"axis":{"values":[0.15,0.3,0.45,0.6,0.75],"format":".2f","title":"t25"}},
  "y":{"field":"y","type":"quantitative","scale":{"domain":[1.8995,1.9993],"nice":false,"zero":false},"axis":{"values":[1.9,1.92,1.94,1.96,1.98],"labels":false,"title":null}},
  "order":{"field":"i","type":"quantitative"},"detail":{"field":"s","type":"nominal"}},
 "layer":[{"transform":[{"filter":"substring(datum.s,0,1)=='g'"}],"mark":{"type":"line","interpolate":"linear-closed","fill":"#b2b2b2","stroke":"#1a1a1a","strokeWidth":1.4,"clip":true}},
  {"transform":[{"filter":"substring(datum.s,0,1)=='k'"}],"mark":{"type":"line","interpolate":"linear-closed","fill":"#1a1a1a","stroke":"#1a1a1a","strokeWidth":1.4,"clip":true}}]},
{"width":313,"height":313,
 "data":{"values":[{"s":"g1","i":0,"x":0.431,"y":1.9993},{"s":"g1","i":1,"x":0.446,"y":1.9817},{"s":"g1","i":2,"x":0.428,"y":1.9617},{"s":"g1","i":3,"x":0.446,"y":1.9446},{"s":"g1","i":4,"x":0.435,"y":1.9274},{"s":"g1","i":5,"x":0.428,"y":1.8995},{"s":"g1","i":6,"x":0.775,"y":1.8995},{"s":"g1","i":7,"x":0.79,"y":1.916},{"s":"g1","i":8,"x":0.775,"y":1.9331},{"s":"g1","i":9,"x":0.793,"y":1.9503},{"s":"g1","i":10,"x":0.775,"y":1.9674},{"s":"g1","i":11,"x":0.79,"y":1.9846},{"s":"g1","i":12,"x":0.782,"y":1.9993},
 {"s":"k1","i":0,"x":0.566,"y":1.9949},{"s":"k1","i":1,"x":0.633,"y":1.9972},{"s":"k1","i":2,"x":0.7,"y":1.9932},{"s":"k1","i":3,"x":0.707,"y":1.9789},{"s":"k1","i":4,"x":0.689,"y":1.9646},{"s":"k1","i":5,"x":0.659,"y":1.9606},{"s":"k1","i":6,"x":0.689,"y":1.9532},{"s":"k1","i":7,"x":0.707,"y":1.9389},{"s":"k1","i":8,"x":0.67,"y":1.9274},{"s":"k1","i":9,"x":0.596,"y":1.9245},{"s":"k1","i":10,"x":0.551,"y":1.9331},{"s":"k1","i":11,"x":0.566,"y":1.9503},{"s":"k1","i":12,"x":0.54,"y":1.9674},{"s":"k1","i":13,"x":0.558,"y":1.9817},
 {"s":"k2","i":0,"x":0.558,"y":1.9103},{"s":"k2","i":1,"x":0.614,"y":1.9149},{"s":"k2","i":2,"x":0.678,"y":1.9103},{"s":"k2","i":3,"x":0.693,"y":1.8995},{"s":"k2","i":4,"x":0.54,"y":1.8995}]},
 "encoding":{"x":{"field":"x","type":"quantitative","scale":{"domain":[0.256,0.907],"nice":false,"zero":false},"axis":{"values":[0.3,0.45,0.6,0.75,0.9],"format":".2f","title":"t50"}},
  "y":{"field":"y","type":"quantitative","scale":{"domain":[1.8995,1.9993],"nice":false,"zero":false},"axis":{"values":[1.9,1.92,1.94,1.96,1.98],"labels":false,"title":null}},
  "order":{"field":"i","type":"quantitative"},"detail":{"field":"s","type":"nominal"}},
 "layer":[{"transform":[{"filter":"substring(datum.s,0,1)=='g'"}],"mark":{"type":"line","interpolate":"linear-closed","fill":"#b2b2b2","stroke":"#1a1a1a","strokeWidth":1.4,"clip":true}},
  {"transform":[{"filter":"substring(datum.s,0,1)=='k'"}],"mark":{"type":"line","interpolate":"linear-closed","fill":"#1a1a1a","stroke":"#1a1a1a","strokeWidth":1.4,"clip":true}}]},
{"width":313,"height":313,
 "data":{"values":[{"s":"g1","i":0,"x":0.628,"y":1.9993},{"s":"g1","i":1,"x":0.64,"y":1.9817},{"s":"g1","i":2,"x":0.628,"y":1.9589},{"s":"g1","i":3,"x":0.622,"y":1.936},{"s":"g1","i":4,"x":0.634,"y":1.916},{"s":"g1","i":5,"x":0.628,"y":1.8995},{"s":"g1","i":6,"x":0.919,"y":1.8995},{"s":"g1","i":7,"x":0.91,"y":1.916},{"s":"g1","i":8,"x":0.925,"y":1.9389},{"s":"g1","i":9,"x":0.91,"y":1.956},{"s":"g1","i":10,"x":0.928,"y":1.9789},{"s":"g1","i":11,"x":0.919,"y":1.9993},
 {"s":"k1","i":0,"x":0.769,"y":1.996},{"s":"k1","i":1,"x":0.829,"y":1.9972},{"s":"k1","i":2,"x":0.859,"y":1.9903},{"s":"k1","i":3,"x":0.85,"y":1.9732},{"s":"k1","i":4,"x":0.862,"y":1.956},{"s":"k1","i":5,"x":0.832,"y":1.9446},{"s":"k1","i":6,"x":0.814,"y":1.9274},{"s":"k1","i":7,"x":0.754,"y":1.9245},{"s":"k1","i":8,"x":0.733,"y":1.936},{"s":"k1","i":9,"x":0.754,"y":1.9532},{"s":"k1","i":10,"x":0.748,"y":1.9732},{"s":"k1","i":11,"x":0.76,"y":1.9875},
 {"s":"k2","i":0,"x":0.778,"y":1.9149},{"s":"k2","i":1,"x":0.844,"y":1.9189},{"s":"k2","i":2,"x":0.862,"y":1.8995},{"s":"k2","i":3,"x":0.769,"y":1.8995}]},
 "encoding":{"x":{"field":"x","type":"quantitative","scale":{"domain":[0.461,0.985],"nice":false,"zero":false},"axis":{"values":[0.6,0.75,0.9],"format":".2f","title":"t75"}},
  "y":{"field":"y","type":"quantitative","scale":{"domain":[1.8995,1.9993],"nice":false,"zero":false},"axis":{"values":[1.9,1.92,1.94,1.96,1.98],"labels":false,"title":null}},
  "order":{"field":"i","type":"quantitative"},"detail":{"field":"s","type":"nominal"}},
 "layer":[{"transform":[{"filter":"substring(datum.s,0,1)=='g'"}],"mark":{"type":"line","interpolate":"linear-closed","fill":"#b2b2b2","stroke":"#1a1a1a","strokeWidth":1.4,"clip":true}},
  {"transform":[{"filter":"substring(datum.s,0,1)=='k'"}],"mark":{"type":"line","interpolate":"linear-closed","fill":"#1a1a1a","stroke":"#1a1a1a","strokeWidth":1.4,"clip":true}}]},
{"width":313,"height":313,
 "data":{"values":[{"s":"g1","i":0,"x":-1.091,"y":1.9993},{"s":"g1","i":1,"x":0.295,"y":1.9993},{"s":"g1","i":2,"x":0.295,"y":1.8995},{"s":"g1","i":3,"x":-0.894,"y":1.8995},{"s":"g1","i":4,"x":-0.999,"y":1.908},{"s":"g1","i":5,"x":-1.17,"y":1.9108},{"s":"g1","i":6,"x":-1.354,"y":1.9148},{"s":"g1","i":7,"x":-1.42,"y":1.9217},{"s":"g1","i":8,"x":-1.394,"y":1.9331},{"s":"g1","i":9,"x":-1.289,"y":1.9446},{"s":"g1","i":10,"x":-1.157,"y":1.9474},{"s":"g1","i":11,"x":-0.999,"y":1.9606},{"s":"g1","i":12,"x":-0.907,"y":1.9823},{"s":"g1","i":13,"x":-1.026,"y":1.9817},{"s":"g1","i":14,"x":-1.157,"y":1.9869},{"s":"g1","i":15,"x":-1.118,"y":1.9932},
 {"s":"g2","i":0,"x":-1.683,"y":1.9743},{"s":"g2","i":1,"x":-1.578,"y":1.976},{"s":"g2","i":2,"x":-1.539,"y":1.972},{"s":"g2","i":3,"x":-1.631,"y":1.9692},{"s":"g2","i":4,"x":-1.696,"y":1.9715},
 {"s":"g3","i":0,"x":-1.591,"y":1.956},{"s":"g3","i":1,"x":-1.486,"y":1.9566},{"s":"g3","i":2,"x":-1.473,"y":1.9531},{"s":"g3","i":3,"x":-1.578,"y":1.952},
 {"s":"w1","i":0,"x":-0.881,"y":1.9827},{"s":"w1","i":1,"x":-0.842,"y":1.9919},{"s":"w1","i":2,"x":-0.789,"y":1.9936},{"s":"w1","i":3,"x":-0.684,"y":1.9873},{"s":"w1","i":4,"x":-0.763,"y":1.9822},
 {"s":"w2","i":0,"x":-1.065,"y":1.9228},{"s":"w2","i":1,"x":-0.96,"y":1.924},{"s":"w2","i":2,"x":-0.92,"y":1.9223},{"s":"w2","i":3,"x":-1.039,"y":1.9211},
 {"s":"k1","i":0,"x":-0.15,"y":1.9993},{"s":"k1","i":1,"x":0.295,"y":1.9993},{"s":"k1","i":2,"x":0.295,"y":1.9313},{"s":"k1","i":3,"x":0.012,"y":1.9319},{"s":"k1","i":4,"x":-0.15,"y":1.9421},{"s":"k1","i":5,"x":-0.212,"y":1.9513},{"s":"k1","i":6,"x":-0.321,"y":1.9575},{"s":"k1","i":7,"x":-0.212,"y":1.9689},{"s":"k1","i":8,"x":-0.118,"y":1.9752},{"s":"k1","i":9,"x":-0.13,"y":1.9855},
 {"s":"k2","i":0,"x":0.295,"y":1.9193},{"s":"k2","i":1,"x":0.133,"y":1.9218},{"s":"k2","i":2,"x":-0.029,"y":1.9204},{"s":"k2","i":3,"x":-0.089,"y":1.9136},{"s":"k2","i":4,"x":-0.15,"y":1.8995},{"s":"k2","i":5,"x":0.295,"y":1.8995}]},
 "encoding":{"x":{"field":"x","type":"quantitative","scale":{"domain":[-2.0,0.295],"nice":false,"zero":false},"axis":{"values":[-1.5,-1,-0.5,0],"format":".1f","title":"Z"}},
  "y":{"field":"y","type":"quantitative","scale":{"domain":[1.8995,1.9993],"nice":false,"zero":false},"axis":{"values":[1.9,1.92,1.94,1.96,1.98],"labels":false,"title":null}},
  "order":{"field":"i","type":"quantitative"},"detail":{"field":"s","type":"nominal"}},
 "layer":[{"transform":[{"filter":"substring(datum.s,0,1)=='g'"}],"mark":{"type":"line","interpolate":"linear-closed","fill":"#b2b2b2","stroke":"#1a1a1a","strokeWidth":1.4,"clip":true}},
  {"transform":[{"filter":"substring(datum.s,0,1)=='w'"}],"mark":{"type":"line","interpolate":"linear-closed","fill":"#ffffff","stroke":"#1a1a1a","strokeWidth":1.4,"clip":true}},
  {"transform":[{"filter":"substring(datum.s,0,1)=='k'"}],"mark":{"type":"line","interpolate":"linear-closed","fill":"#1a1a1a","stroke":"#1a1a1a","strokeWidth":1.4,"clip":true}}]},
{"width":313,"height":313,
 "data":{"values":[{"s":"g1","i":0,"x":0.236,"y":1.9993},{"s":"g1","i":1,"x":0.152,"y":1.9815},{"s":"g1","i":2,"x":0.138,"y":1.9643},{"s":"g1","i":3,"x":0.222,"y":1.9413},{"s":"g1","i":4,"x":0.291,"y":1.9184},{"s":"g1","i":5,"x":0.187,"y":1.8995},{"s":"g1","i":6,"x":1.331,"y":1.8995},{"s":"g1","i":7,"x":1.504,"y":1.9149},{"s":"g1","i":8,"x":1.471,"y":1.9184},{"s":"g1","i":9,"x":1.435,"y":1.9413},{"s":"g1","i":10,"x":1.4,"y":1.9597},{"s":"g1","i":11,"x":1.386,"y":1.9758},{"s":"g1","i":12,"x":1.297,"y":1.9815},{"s":"g1","i":13,"x":1.297,"y":1.9918},{"s":"g1","i":14,"x":1.435,"y":1.9993},
 {"s":"k1","i":0,"x":0.499,"y":1.9993},{"s":"k1","i":1,"x":1.019,"y":1.9993},{"s":"k1","i":2,"x":1.054,"y":1.9815},{"s":"k1","i":3,"x":1.054,"y":1.9643},{"s":"k1","i":4,"x":1.019,"y":1.9471},{"s":"k1","i":5,"x":0.901,"y":1.9287},{"s":"k1","i":6,"x":0.604,"y":1.9356},{"s":"k1","i":7,"x":0.486,"y":1.9471},{"s":"k1","i":8,"x":0.464,"y":1.9643},{"s":"k1","i":9,"x":0.513,"y":1.9815},
 {"s":"k2","i":0,"x":0.901,"y":1.9184},{"s":"k2","i":1,"x":1.054,"y":1.8995},{"s":"k2","i":2,"x":0.486,"y":1.8995}]},
 "encoding":{"x":{"field":"x","type":"quantitative","scale":{"domain":[0,3.95],"nice":false,"zero":false},"axis":{"values":[0.8,1.6,2.4,3.2],"format":".1f","title":"Av"}},
  "y":{"field":"y","type":"quantitative","scale":{"domain":[1.8995,1.9993],"nice":false,"zero":false},"axis":{"values":[1.9,1.92,1.94,1.96,1.98],"labels":false,"title":null}},
  "order":{"field":"i","type":"quantitative"},"detail":{"field":"s","type":"nominal"}},
 "layer":[{"transform":[{"filter":"substring(datum.s,0,1)=='g'"}],"mark":{"type":"line","interpolate":"linear-closed","fill":"#b2b2b2","stroke":"#1a1a1a","strokeWidth":1.4,"clip":true}},
  {"transform":[{"filter":"substring(datum.s,0,1)=='k'"}],"mark":{"type":"line","interpolate":"linear-closed","fill":"#1a1a1a","stroke":"#1a1a1a","strokeWidth":1.4,"clip":true}}]},
{"width":313,"height":313,"layer":[
 {"data":{"values":[{"x":1.8995,"n":253},{"x":1.90449,"n":180},{"x":1.90948,"n":225},{"x":1.91447,"n":203},{"x":1.91946,"n":181.4},{"x":1.92445,"n":187.8},{"x":1.92944,"n":238.6},{"x":1.93443,"n":203.6},{"x":1.93942,"n":240},{"x":1.94441,"n":256.5},{"x":1.9494,"n":282.3},{"x":1.95439,"n":224.3},{"x":1.95938,"n":241.5},{"x":1.96437,"n":209.3},{"x":1.96936,"n":231.5},{"x":1.97435,"n":220},{"x":1.97934,"n":255},{"x":1.98433,"n":180.7},{"x":1.98932,"n":204.6},{"x":1.99431,"n":249.7},{"x":1.9993,"n":249.7}]},
  "mark":{"type":"line","interpolate":"step-after","stroke":"#1f1f1f","strokeWidth":1.5},
  "encoding":{"x":{"field":"x","type":"quantitative","scale":{"domain":[1.8995,1.9993],"nice":false,"zero":false},"axis":{"values":[1.9,1.92,1.94,1.96,1.98],"format":".2f","title":"z"}},"y":{"field":"n","type":"quantitative","scale":{"domain":[0,312],"nice":false},"axis":null}}},
 {"data":{"values":[{"x":1.916},{"x":1.983}]},"mark":{"type":"rule","strokeDash":[7,4],"strokeWidth":2,"color":"#1f1f1f"},"encoding":{"x":{"field":"x","type":"quantitative","scale":{"domain":[1.8995,1.9993],"nice":false,"zero":false}}}},
 {"data":{"values":[{"t":"z = 1.95","u":"+0.03","d":"−0.03"}]},"encoding":{"x":{"datum":1.9577,"type":"quantitative"},"y":{"datum":312,"type":"quantitative","axis":null}},"layer":[
  {"mark":{"type":"text","align":"right","baseline":"alphabetic","dy":-13,"fontSize":29,"font":"DejaVu Sans","color":"#262626"},"encoding":{"text":{"field":"t"}}},
  {"mark":{"type":"text","align":"left","baseline":"alphabetic","dx":1,"dy":-28,"fontSize":22,"font":"DejaVu Sans","color":"#262626"},"encoding":{"text":{"field":"u"}}},
  {"mark":{"type":"text","align":"left","baseline":"alphabetic","dx":1,"dy":-4,"fontSize":22,"font":"DejaVu Sans","color":"#262626"},"encoding":{"text":{"field":"d"}}}]}]}
],
"config":{
 "view":{"stroke":"#262626","strokeWidth":3.5},
 "axis":{"domain":false,"grid":false,"ticks":true,"tickSize":13,"tickWidth":3,"tickColor":"#262626","labelFont":"Liberation Sans","labelFontSize":29,"labelColor":"#262626","labelAngle":-45,"labelAlign":"right","labelBaseline":"middle","labelFlush":false,"labelOverlap":false,"labelBound":false,"titleFont":"Liberation Sans","titleFontSize":40,"titleFontWeight":"normal","titleColor":"#262626"},
 "axisX":{"labelPadding":14,"titlePadding":12},
 "axisY":{"labelPadding":14,"titlePadding":10}
}
}
